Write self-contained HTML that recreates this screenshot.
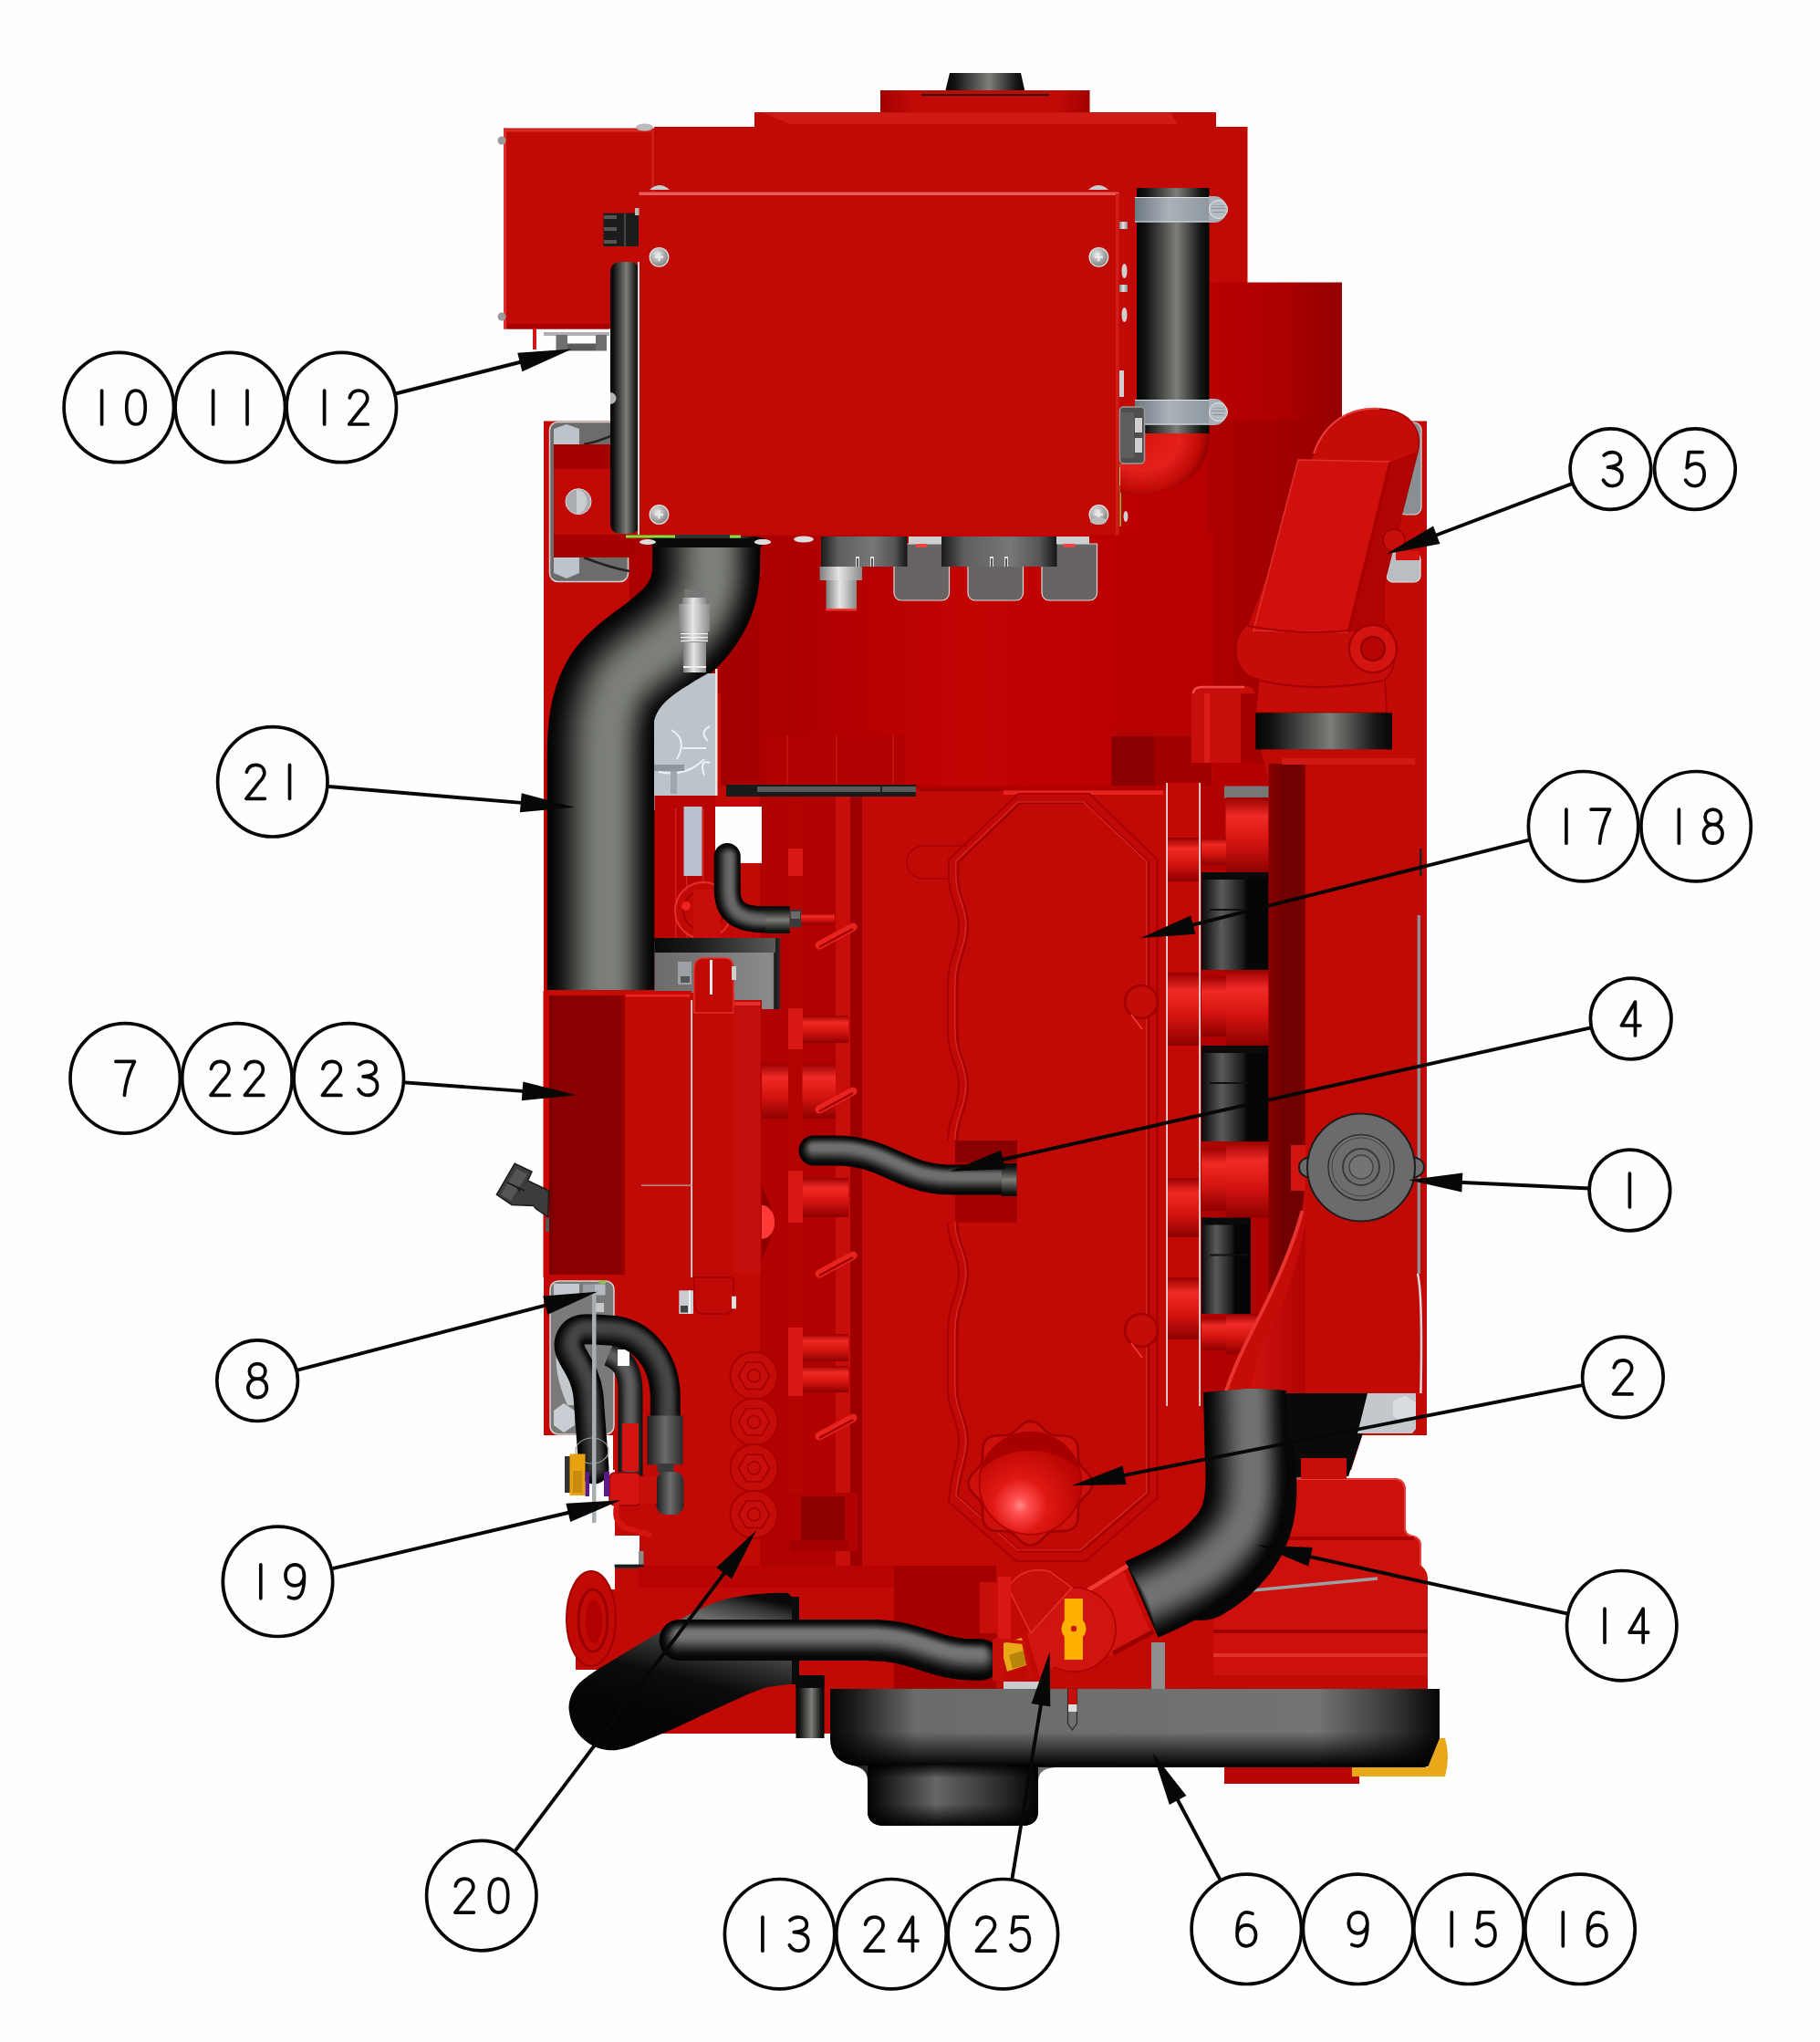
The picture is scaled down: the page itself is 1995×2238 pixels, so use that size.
<!DOCTYPE html>
<html><head><meta charset="utf-8"><title>Engine diagram</title>
<style>html,body{margin:0;padding:0;background:#fefefe;font-family:"Liberation Sans",sans-serif;}svg{display:block}</style>
</head><body>
<svg width="1995" height="2238" viewBox="0 0 1995 2238">
<defs>
<linearGradient id="hv" x1="0" x2="1" y1="0" y2="0"><stop offset="0" stop-color="#030503"/><stop offset="0.12" stop-color="#111311"/><stop offset="0.55" stop-color="#7b7e79"/><stop offset="0.88" stop-color="#161816"/><stop offset="1" stop-color="#030503"/></linearGradient>
<linearGradient id="hh" x1="0" x2="0" y1="0" y2="1"><stop offset="0" stop-color="#030503"/><stop offset="0.12" stop-color="#111311"/><stop offset="0.5" stop-color="#7b7e79"/><stop offset="0.88" stop-color="#161816"/><stop offset="1" stop-color="#030503"/></linearGradient>
<linearGradient id="clampg" x1="0" x2="1" y1="0" y2="0"><stop offset="0" stop-color="#6d7780"/><stop offset="0.45" stop-color="#a9b2b9"/><stop offset="1" stop-color="#8d979f"/></linearGradient>
<radialGradient id="screwg" cx="0.4" cy="0.35" r="0.7"><stop offset="0" stop-color="#e8e8e8"/><stop offset="1" stop-color="#777"/></radialGradient>
<radialGradient id="ballg" cx="0.5" cy="0.5" r="0.5"><stop offset="0" stop-color="#ff7a7a"/><stop offset="0.35" stop-color="#f01818"/><stop offset="1" stop-color="#c10a06"/></radialGradient>
<linearGradient id="bossg" x1="0" x2="0" y1="0" y2="1"><stop offset="0" stop-color="#b00000"/><stop offset="0.3" stop-color="#ee2622"/><stop offset="0.7" stop-color="#d01410"/><stop offset="1" stop-color="#9a0000"/></linearGradient>
<linearGradient id="pang" x1="0" x2="0" y1="0" y2="1"><stop offset="0" stop-color="#5e605d"/><stop offset="0.45" stop-color="#6f716e"/><stop offset="0.8" stop-color="#2a2b2a"/><stop offset="1" stop-color="#050505"/></linearGradient>
<linearGradient id="dkred" x1="0" x2="1" y1="0" y2="0"><stop offset="0" stop-color="#a30000"/><stop offset="0.5" stop-color="#b60402"/><stop offset="1" stop-color="#a30000"/></linearGradient>
</defs>
<rect width="1995" height="2238" fill="#fefefe"/>
<linearGradient id="rb" x1="0" x2="1" y1="0" y2="0"><stop offset="0" stop-color="#b80000"/><stop offset="0.55" stop-color="#ac0000"/><stop offset="1" stop-color="#940000"/></linearGradient>
<linearGradient id="mid" gradientUnits="userSpaceOnUse" x1="790" x2="1380" y1="0" y2="0"><stop offset="0" stop-color="#a40000"/><stop offset="0.12" stop-color="#ac0000"/><stop offset="0.3" stop-color="#b80000"/><stop offset="0.45" stop-color="#c20403"/><stop offset="0.7" stop-color="#bc0000"/><stop offset="1" stop-color="#b40000"/></linearGradient>
<linearGradient id="plateg" x1="0" x2="1" y1="0" y2="0"><stop offset="0" stop-color="#a00000"/><stop offset="0.15" stop-color="#c10a06"/><stop offset="0.85" stop-color="#c10a06"/><stop offset="1" stop-color="#a00000"/></linearGradient>
<polygon points="1041,80 1119,80 1124.5,105 1035,105" fill="url(#hv)" />
<rect x="965" y="99" width="229.5" height="25" fill="url(#plateg)" />
<rect x="1010" y="103" width="140" height="2" fill="#2a1a1a" />
<rect x="827" y="123" width="506" height="18" fill="#c10a06" />
<polygon points="836,123.5 1283,123.5 1291,136 866,136" fill="#cf1a16" />
<rect x="717" y="139" width="650.5" height="173" fill="#c10a06" />
<rect x="552" y="140.5" width="165" height="220.0" fill="#c10a06" />
<rect x="552" y="140.5" width="3" height="220.0" fill="#d8302c" />
<rect x="554" y="141.5" width="163" height="3.0" fill="#d62c28" />
<rect x="556" y="355" width="112" height="5.5" fill="#a80000" />
<rect x="714" y="142" width="3" height="73" fill="#cf1e1a" />
<circle cx="550" cy="154" r="4.5" fill="#9a9a9a" />
<circle cx="550" cy="347" r="4.5" fill="#9a9a9a" />
<ellipse cx="706.5" cy="139.5" rx="9.5" ry="4" fill="#b9bcbc"/>
<rect x="584" y="360" width="4" height="23" fill="#cf1a16" />
<rect x="596" y="364" width="72" height="4" fill="#b0b0b0" />
<rect x="609.5" y="367" width="12.5" height="17.5" fill="#6f6f6f" />
<rect x="622" y="376.5" width="31" height="8.0" fill="#5a5a5a" />
<rect x="653" y="367" width="12" height="17.5" fill="#6f6f6f" />
<rect x="1325" y="309.5" width="146" height="520.5" fill="url(#rb)" />
<rect x="596" y="461.5" width="968" height="1149.5" fill="#c10a06" />
<rect x="790" y="586" width="602" height="275" fill="url(#mid)" />
<rect x="690" y="586" width="100" height="174" fill="#aa0000" />
<rect x="674" y="1600" width="656" height="300" fill="#c10a06" />
<linearGradient id="rb2" gradientUnits="userSpaceOnUse" x1="1226" x2="1470" y1="0" y2="0"><stop offset="0" stop-color="#bc0000"/><stop offset="0.38" stop-color="#b80000"/><stop offset="0.42" stop-color="#ac0000"/><stop offset="1" stop-color="#980000"/></linearGradient>
<rect x="1226" y="309.5" width="100" height="280.5" fill="#c10a06" />
<rect x="1226" y="461" width="245" height="375" fill="url(#rb2)" />
<rect x="1226" y="586" width="104" height="250" fill="#b80000" />
<rect x="1220" y="799" width="112" height="62" fill="#b40402" />
<linearGradient id="metal" x1="0" x2="1" y1="0" y2="0"><stop offset="0" stop-color="#7d7d7d"/><stop offset="0.45" stop-color="#e6e6e6"/><stop offset="1" stop-color="#8a8a8a"/></linearGradient>
<linearGradient id="conn" x1="0" x2="1" y1="0" y2="0"><stop offset="0" stop-color="#1a1a1a"/><stop offset="0.2" stop-color="#5f5f5f"/><stop offset="0.6" stop-color="#777"/><stop offset="0.85" stop-color="#555"/><stop offset="1" stop-color="#151515"/></linearGradient>
<rect x="602.5" y="462.5" width="86" height="175" rx="9" fill="#6c6c6c" stroke="#d0d0d0" stroke-width="1.5"/>
<polygon points="607,470 621,465 635,470 635,487 607,487" fill="#bcc4cb" />
<polygon points="607,611 635,611 635,628 621,634 607,628" fill="#bcc4cb" />
<path d="M640,487 Q668,482 690,466" fill="none" stroke="#222" stroke-width="2.5"/>
<path d="M640,611 Q668,622 690,626" fill="none" stroke="#222" stroke-width="2.5"/>
<rect x="607" y="487" width="93" height="124" fill="#c10a06" />
<rect x="607" y="487" width="93" height="27" fill="#a60000" />
<rect x="607" y="586" width="93" height="25" fill="#a60000" />
<circle cx="634" cy="549.7" r="14" fill="#a9adb2" stroke="#d8d8d8" stroke-width="1"/>
<path d="M632,536 A14,14 0 0 1 632,563.5 Z" fill="#c9cdd2" />
<rect x="669" y="287" width="32" height="298" rx="10" fill="url(#hv)"/>
<path d="M669,430 A6.5,6.5 0 0 1 669,443 Z" fill="#b5b5b5"/>
<rect x="661.5" y="233.5" width="38.5" height="36.5" fill="#1c1c1c" />
<rect x="662" y="236" width="14" height="4" fill="#555" />
<rect x="662" y="249" width="14" height="4" fill="#555" />
<rect x="662" y="263" width="14" height="4" fill="#555" />
<rect x="684" y="234" width="2" height="36" fill="#444" />
<rect x="696" y="228" width="5" height="8" fill="#bbb" />
<rect x="700.5" y="210.5" width="526.0" height="376.0" fill="#c10a06" />
<rect x="700.5" y="210.5" width="526.0" height="3.5" fill="#e85a56" />
<rect x="699" y="287" width="2" height="299" fill="#d9d9d9" />
<rect x="1223" y="212" width="3.5" height="374" fill="#cf1d19" />
<path d="M712,208 Q723,198 734,208 Z" fill="#c9cccc"/>
<path d="M1193,208 Q1204,198 1215,208 Z" fill="#c9cccc"/>
<circle cx="722.5" cy="281.8" r="10.3" fill="url(#screwg)" stroke="#e4e4e4" stroke-width="1.2"/>
<path d="M718.0,280.6h3.3v-3.3h2.4v3.3h3.3v2.4h-3.3v3.3h-2.4v-3.3h-3.3z" fill="#e9e9e9"/>
<circle cx="1204.4" cy="281.8" r="10.3" fill="url(#screwg)" stroke="#e4e4e4" stroke-width="1.2"/>
<path d="M1199.9,280.6h3.3v-3.3h2.4v3.3h3.3v2.4h-3.3v3.3h-2.4v-3.3h-3.3z" fill="#e9e9e9"/>
<circle cx="722.5" cy="564" r="10.3" fill="url(#screwg)" stroke="#e4e4e4" stroke-width="1.2"/>
<path d="M718.0,562.8h3.3v-3.3h2.4v3.3h3.3v2.4h-3.3v3.3h-2.4v-3.3h-3.3z" fill="#e9e9e9"/>
<circle cx="1204.4" cy="564" r="10.3" fill="url(#screwg)" stroke="#e4e4e4" stroke-width="1.2"/>
<path d="M1199.9,562.8h3.3v-3.3h2.4v3.3h3.3v2.4h-3.3v3.3h-2.4v-3.3h-3.3z" fill="#e9e9e9"/>
<rect x="1227" y="243" width="9" height="8" fill="url(#metal)" />
<rect x="1227" y="312" width="9" height="8" fill="url(#metal)" />
<ellipse cx="1232.5" cy="297" rx="3" ry="8" fill="#d0d0d0"/>
<ellipse cx="1232.5" cy="345" rx="3" ry="8" fill="#d0d0d0"/>
<rect x="1227" y="406" width="5" height="29" fill="#cfcfcf" />
<rect x="1227" y="512" width="6" height="20" fill="#bdbdbd" />
<rect x="1227.5" y="508" width="1.3" height="69" fill="#86e03c" />
<ellipse cx="1234" cy="566" rx="2.5" ry="6" fill="#d0d0d0"/>
<rect x="1246" y="206" width="79.5" height="270" fill="url(#hv)" />
<rect x="1244" y="216" width="83" height="27.5" fill="url(#clampg)" />
<rect x="1244" y="216" width="83" height="1" fill="#dfe3e6" />
<rect x="1244" y="242.5" width="83" height="1.0" fill="#dfe3e6" />
<path d="M1325,215 h6 a14,14.5 0 0 1 0,29 h-6 z" fill="#a7afb6"/>
<circle cx="1335.5" cy="229.5" r="10" fill="#b4bcc2" stroke="#e8eaec" stroke-width="1"/>
<rect x="1328" y="228" width="15" height="1" fill="#8c949a" />
<rect x="1329" y="232" width="13" height="1" fill="#8c949a" />
<rect x="1329" y="225" width="13" height="1" fill="#9aa2a8" />
<rect x="1244" y="438" width="83" height="27.5" fill="url(#clampg)" />
<rect x="1244" y="438" width="83" height="1" fill="#dfe3e6" />
<rect x="1244" y="464.5" width="83" height="1.0" fill="#dfe3e6" />
<path d="M1325,437 h6 a14,14.5 0 0 1 0,29 h-6 z" fill="#a7afb6"/>
<circle cx="1335.5" cy="451.5" r="10" fill="#b4bcc2" stroke="#e8eaec" stroke-width="1"/>
<rect x="1328" y="450" width="15" height="1" fill="#8c949a" />
<rect x="1329" y="454" width="13" height="1" fill="#8c949a" />
<rect x="1329" y="447" width="13" height="1" fill="#9aa2a8" />
<radialGradient id="elb" gradientUnits="userSpaceOnUse" cx="1253" cy="475" r="74"><stop offset="0" stop-color="#d81410"/><stop offset="0.55" stop-color="#e3201c"/><stop offset="0.85" stop-color="#c10a06"/><stop offset="1" stop-color="#8a0000"/></radialGradient>
<path d="M1325.5,475 L1246,475 L1228,475 L1228,540 C1290,548 1325.5,520 1325.5,475 Z" fill="url(#elb)" />
<rect x="1227.5" y="446" width="27" height="62" rx="4" fill="#4e4e4e" stroke="#9a9a9a" stroke-width="1.5"/>
<rect x="1228" y="452" width="15" height="50" fill="#5e5e5e" />
<rect x="1244" y="458" width="8" height="16" fill="#cfcfcf" />
<rect x="1244" y="480" width="8" height="16" fill="#cfcfcf" />
<path d="M774.5,588 L774,625 C772,695 700,712 675,750 C661,772 658.7,800 658.7,830 L658.7,1085" fill="none" stroke="#050605" stroke-width="118.00" stroke-linecap="butt" stroke-linejoin="round" transform="translate(0.00,0.00)" />
<path d="M774.5,588 L774,625 C772,695 700,712 675,750 C661,772 658.7,800 658.7,830 L658.7,1085" fill="none" stroke="#060706" stroke-width="113.75" stroke-linecap="butt" stroke-linejoin="round" transform="translate(0.28,0.00)" />
<path d="M774.5,588 L774,625 C772,695 700,712 675,750 C661,772 658.7,800 658.7,830 L658.7,1085" fill="none" stroke="#080a08" stroke-width="109.50" stroke-linecap="butt" stroke-linejoin="round" transform="translate(0.56,0.00)" />
<path d="M774.5,588 L774,625 C772,695 700,712 675,750 C661,772 658.7,800 658.7,830 L658.7,1085" fill="none" stroke="#0c0d0c" stroke-width="105.26" stroke-linecap="butt" stroke-linejoin="round" transform="translate(0.84,0.00)" />
<path d="M774.5,588 L774,625 C772,695 700,712 675,750 C661,772 658.7,800 658.7,830 L658.7,1085" fill="none" stroke="#101110" stroke-width="101.01" stroke-linecap="butt" stroke-linejoin="round" transform="translate(1.12,0.00)" />
<path d="M774.5,588 L774,625 C772,695 700,712 675,750 C661,772 658.7,800 658.7,830 L658.7,1085" fill="none" stroke="#151615" stroke-width="96.76" stroke-linecap="butt" stroke-linejoin="round" transform="translate(1.40,0.00)" />
<path d="M774.5,588 L774,625 C772,695 700,712 675,750 C661,772 658.7,800 658.7,830 L658.7,1085" fill="none" stroke="#1b1c1a" stroke-width="92.51" stroke-linecap="butt" stroke-linejoin="round" transform="translate(1.68,0.00)" />
<path d="M774.5,588 L774,625 C772,695 700,712 675,750 C661,772 658.7,800 658.7,830 L658.7,1085" fill="none" stroke="#212220" stroke-width="88.26" stroke-linecap="butt" stroke-linejoin="round" transform="translate(1.96,0.00)" />
<path d="M774.5,588 L774,625 C772,695 700,712 675,750 C661,772 658.7,800 658.7,830 L658.7,1085" fill="none" stroke="#272927" stroke-width="84.02" stroke-linecap="butt" stroke-linejoin="round" transform="translate(2.24,0.00)" />
<path d="M774.5,588 L774,625 C772,695 700,712 675,750 C661,772 658.7,800 658.7,830 L658.7,1085" fill="none" stroke="#2e302d" stroke-width="79.77" stroke-linecap="butt" stroke-linejoin="round" transform="translate(2.52,0.00)" />
<path d="M774.5,588 L774,625 C772,695 700,712 675,750 C661,772 658.7,800 658.7,830 L658.7,1085" fill="none" stroke="#353734" stroke-width="75.52" stroke-linecap="butt" stroke-linejoin="round" transform="translate(2.80,0.00)" />
<path d="M774.5,588 L774,625 C772,695 700,712 675,750 C661,772 658.7,800 658.7,830 L658.7,1085" fill="none" stroke="#3c3e3b" stroke-width="71.27" stroke-linecap="butt" stroke-linejoin="round" transform="translate(3.08,0.00)" />
<path d="M774.5,588 L774,625 C772,695 700,712 675,750 C661,772 658.7,800 658.7,830 L658.7,1085" fill="none" stroke="#434542" stroke-width="67.02" stroke-linecap="butt" stroke-linejoin="round" transform="translate(3.36,0.00)" />
<path d="M774.5,588 L774,625 C772,695 700,712 675,750 C661,772 658.7,800 658.7,830 L658.7,1085" fill="none" stroke="#4a4c49" stroke-width="62.78" stroke-linecap="butt" stroke-linejoin="round" transform="translate(3.64,0.00)" />
<path d="M774.5,588 L774,625 C772,695 700,712 675,750 C661,772 658.7,800 658.7,830 L658.7,1085" fill="none" stroke="#51534f" stroke-width="58.53" stroke-linecap="butt" stroke-linejoin="round" transform="translate(3.92,0.00)" />
<path d="M774.5,588 L774,625 C772,695 700,712 675,750 C661,772 658.7,800 658.7,830 L658.7,1085" fill="none" stroke="#575a56" stroke-width="54.28" stroke-linecap="butt" stroke-linejoin="round" transform="translate(4.20,0.00)" />
<path d="M774.5,588 L774,625 C772,695 700,712 675,750 C661,772 658.7,800 658.7,830 L658.7,1085" fill="none" stroke="#5e605c" stroke-width="50.03" stroke-linecap="butt" stroke-linejoin="round" transform="translate(4.48,0.00)" />
<path d="M774.5,588 L774,625 C772,695 700,712 675,750 C661,772 658.7,800 658.7,830 L658.7,1085" fill="none" stroke="#636662" stroke-width="45.78" stroke-linecap="butt" stroke-linejoin="round" transform="translate(4.76,0.00)" />
<path d="M774.5,588 L774,625 C772,695 700,712 675,750 C661,772 658.7,800 658.7,830 L658.7,1085" fill="none" stroke="#696b67" stroke-width="41.54" stroke-linecap="butt" stroke-linejoin="round" transform="translate(5.04,0.00)" />
<path d="M774.5,588 L774,625 C772,695 700,712 675,750 C661,772 658.7,800 658.7,830 L658.7,1085" fill="none" stroke="#6d706b" stroke-width="37.29" stroke-linecap="butt" stroke-linejoin="round" transform="translate(5.32,0.00)" />
<path d="M774.5,588 L774,625 C772,695 700,712 675,750 C661,772 658.7,800 658.7,830 L658.7,1085" fill="none" stroke="#717470" stroke-width="33.04" stroke-linecap="butt" stroke-linejoin="round" transform="translate(5.60,0.00)" />
<path d="M774.5,588 L774,625 C772,695 700,712 675,750 C661,772 658.7,800 658.7,830 L658.7,1085" fill="none" stroke="#757873" stroke-width="28.79" stroke-linecap="butt" stroke-linejoin="round" transform="translate(5.88,0.00)" />
<path d="M774.5,588 L774,625 C772,695 700,712 675,750 C661,772 658.7,800 658.7,830 L658.7,1085" fill="none" stroke="#777a76" stroke-width="24.54" stroke-linecap="butt" stroke-linejoin="round" transform="translate(6.16,0.00)" />
<path d="M774.5,588 L774,625 C772,695 700,712 675,750 C661,772 658.7,800 658.7,830 L658.7,1085" fill="none" stroke="#797c77" stroke-width="20.30" stroke-linecap="butt" stroke-linejoin="round" transform="translate(6.44,0.00)" />
<path d="M774.5,588 L774,625 C772,695 700,712 675,750 C661,772 658.7,800 658.7,830 L658.7,1085" fill="none" stroke="#7b7e79" stroke-width="16.05" stroke-linecap="butt" stroke-linejoin="round" transform="translate(6.72,0.00)" />
<path d="M774.5,588 L774,625 C772,695 700,712 675,750 C661,772 658.7,800 658.7,830 L658.7,1085" fill="none" stroke="#7b7e79" stroke-width="11.80" stroke-linecap="butt" stroke-linejoin="round" transform="translate(7.00,0.00)" />
<path d="M712,590 L838,590 L834,600 L716,600 Z" fill="#0a0a0a" />
<rect x="686" y="586.5" width="126" height="3.0" fill="#86e03c" />
<rect x="740" y="586" width="60" height="4" fill="#333" />
<ellipse cx="710" cy="594" rx="9" ry="3" fill="#ddd"/>
<ellipse cx="836" cy="594" rx="9" ry="3" fill="#ddd"/>
<rect x="750.5" y="646" width="21.0" height="9" fill="#777" />
<rect x="748" y="655" width="26" height="7" fill="url(#metal)" />
<rect x="744" y="662" width="34" height="30" fill="url(#metal)" />
<rect x="746" y="692" width="30" height="11" fill="url(#metal)" />
<rect x="746" y="694" width="30" height="1.2" fill="#f4f4f4" />
<rect x="746" y="698" width="30" height="1.2" fill="#f4f4f4" />
<rect x="746" y="702" width="30" height="1.2" fill="#f4f4f4" />
<rect x="749" y="704" width="25" height="33" fill="url(#metal)" />
<rect x="749" y="730" width="25" height="2" fill="#f0f0f0" />
<path d="M717,790 C722,770 740,760 762,746 L776,738 L785,738 L785,872 L760,872 L760,888 L717,888 Z" fill="#bcc4cb" />
<path d="M736,800 q18,10 6,32 M748,820 h26 M778,796 q-12,6 -2,16 M778,836 q-12,-4 -6,14 M722,846 q30,6 50,-14" fill="none" stroke="#eef1f4" stroke-width="2"/>
<rect x="717" y="838" width="33" height="7" fill="#8f979d" />
<rect x="735" y="845" width="7" height="25" fill="#9fa7ad" />
<rect x="784" y="733" width="2.5" height="139" fill="#e8e8e8" />
<path d="M980,596 h60.5 v54 a8,8 0 0 1 -8,8 h-44.5 a8,8 0 0 1 -8,-8 z" fill="#686464" stroke="#d8d8d8" stroke-width="1.2"/>
<path d="M1061,596 h60.5 v54 a8,8 0 0 1 -8,8 h-44.5 a8,8 0 0 1 -8,-8 z" fill="#686464" stroke="#d8d8d8" stroke-width="1.2"/>
<path d="M1142,596 h60.5 v54 a8,8 0 0 1 -8,8 h-44.5 a8,8 0 0 1 -8,-8 z" fill="#686464" stroke="#d8d8d8" stroke-width="1.2"/>
<rect x="900" y="588" width="94.5" height="33" fill="url(#conn)" />
<rect x="1032" y="588" width="126.5" height="33" fill="url(#conn)" />
<rect x="938" y="610" width="4" height="11" fill="#e0e0e0" />
<rect x="939" y="612" width="2" height="9" fill="#555" />
<rect x="954" y="610" width="4" height="11" fill="#e0e0e0" />
<rect x="955" y="612" width="2" height="9" fill="#555" />
<rect x="1085" y="610" width="4" height="11" fill="#e0e0e0" />
<rect x="1086" y="612" width="2" height="9" fill="#555" />
<rect x="1101" y="610" width="4" height="11" fill="#e0e0e0" />
<rect x="1102" y="612" width="2" height="9" fill="#555" />
<rect x="898.5" y="621" width="46.5" height="15" fill="url(#metal)" />
<rect x="905.5" y="636" width="33.5" height="33" fill="url(#metal)" />
<rect x="905.5" y="667" width="33.5" height="2.5" fill="#e33" />
<rect x="996" y="588" width="36" height="8" fill="#cfcfcf" />
<rect x="1004" y="596" width="12" height="4" fill="#e44" />
<rect x="1158" y="588" width="36" height="8" fill="#cfcfcf" />
<rect x="1166" y="596" width="12" height="4" fill="#e44" />
<ellipse cx="836" cy="594" rx="9" ry="3" fill="#ddd"/>
<ellipse cx="881" cy="591" rx="11" ry="3.5" fill="#ddd"/>
<ellipse cx="1204" cy="571" rx="9" ry="4" fill="#bbb"/>
<rect x="1218.5" y="807" width="46.5" height="54" fill="#8a0000" />
<rect x="1265" y="807" width="63" height="54" fill="#a20000" />
<rect x="839" y="806" width="152" height="55" fill="#b00000" />
<rect x="862" y="806" width="2" height="55" fill="#c4100c" />
<rect x="916" y="806" width="2" height="55" fill="#c4100c" />
<rect x="978" y="806" width="2" height="55" fill="#c4100c" />
<rect x="796" y="860" width="208" height="13" fill="#1a1a1a" />
<rect x="830" y="862" width="160" height="6" fill="#555" />
<rect x="1100" y="866.5" width="175" height="4.5" fill="#e22" />
<rect x="1533" y="463" width="25" height="101" rx="8" fill="#8a8f94" stroke="#d8d8d8" stroke-width="1.2"/>
<rect x="1520" y="606" width="37" height="32" rx="7" fill="#b9bec3" stroke="#e0e0e0" stroke-width="1.2"/>
<path d="M1306,836 L1306,762 Q1306,752 1318,752 L1364,752 Q1376,752 1376,762 L1376,836 Z" fill="#c80e0a"/>
<path d="M1308,760 Q1308,753 1318,753 L1364,753" fill="none" stroke="#f04a46" stroke-width="2.5"/>
<rect x="1320" y="760" width="6" height="76" fill="#d81c18" />
<rect x="1360" y="760" width="16" height="76" fill="#a80000" />
<path d="M1440,497 C1452,462 1480,446 1512,448 C1545,450 1560,470 1554,495 L1517,640 L1517,684 C1532,690 1534,735 1518,744 L1520,781 L1376,781 L1380,744 C1352,742 1346,700 1368,684 Z" fill="#c60c08" stroke="#a00000" stroke-width="1.5"/>
<path d="M1423,504 L1524,506 L1478,693 L1374,691 Z" fill="#cf100c" stroke="#e3302c" stroke-width="1.5"/>
<path d="M1440,497 C1452,462 1480,446 1512,448" fill="none" stroke="#e8403c" stroke-width="2"/>
<polygon points="1524,506 1554,495 1517,640 1517,684 1478,693" fill="#b00402" />
<path d="M1524,506 L1478,693" fill="none" stroke="#a80000" stroke-width="3"/>
<path d="M1368,686 Q1440,700 1517,686" fill="none" stroke="#a80000" stroke-width="2"/>
<path d="M1382,746 Q1440,760 1516,746" fill="none" stroke="#a00000" stroke-width="2"/>
<circle cx="1505" cy="711" r="26" fill="#d41410" stroke="#9c0000" stroke-width="2"/>
<circle cx="1505" cy="711" r="13" fill="#b80402" stroke="#8e0000" stroke-width="2"/>
<circle cx="1528" cy="592" r="12" fill="#c80e0a" stroke="#9c0000" stroke-width="1.5"/>
<rect x="1530" y="604" width="26" height="10" fill="#d41410" />
<rect x="1376.3" y="781.3" width="149.7" height="40.2" fill="url(#hv)" />
<path d="M1382,821.5 L1520,821.5 L1520,837 L1405,837 L1400,861 L1392,861 Z" fill="#c00a06" />
<linearGradient id="bossh" x1="0" x2="0" y1="0" y2="1"><stop offset="0" stop-color="#9a0000"/><stop offset="0.25" stop-color="#f02a26"/><stop offset="0.6" stop-color="#d41410"/><stop offset="1" stop-color="#8e0000"/></linearGradient>
<linearGradient id="darkface" x1="0" x2="1" y1="0" y2="0"><stop offset="0" stop-color="#720000"/><stop offset="0.08" stop-color="#8a0000"/><stop offset="0.93" stop-color="#8b0000"/><stop offset="1" stop-color="#a00000"/></linearGradient>
<linearGradient id="dkh" x1="0" x2="1" y1="0" y2="0"><stop offset="0" stop-color="#6c6c6c"/><stop offset="0.3" stop-color="#747474"/><stop offset="0.9" stop-color="#8a8a8a"/><stop offset="0.945" stop-color="#8a8a8a"/><stop offset="0.955" stop-color="#181818"/><stop offset="1" stop-color="#2c2c2c"/></linearGradient>
<rect x="833" y="873" width="112" height="843" fill="#b00301" />
<rect x="945" y="873" width="55" height="843" fill="#ba0604" />
<rect x="784" y="884" width="51" height="62" fill="#fefefe" />
<rect x="717.5" y="872" width="66.5" height="157" fill="#b80402" />
<rect x="740" y="886" width="1.5" height="143" fill="#d0201c" />
<rect x="752" y="886" width="1.5" height="143" fill="#d0201c" />
<rect x="770" y="886" width="1.5" height="143" fill="#d0201c" />
<rect x="749.5" y="884" width="20.0" height="76" fill="#b9c1cf" />
<circle cx="771" cy="998" r="31" fill="#c10a06" stroke="#e3302c" stroke-width="2"/>
<circle cx="771" cy="998" r="22" fill="none" stroke="#a00000" stroke-width="2"/>
<rect x="760" y="975" width="30" height="55" fill="#c80e0a" />
<circle cx="752" cy="993" r="5" fill="#e22" />
<path d="M717.5,1031 L745,1031 L752,1028 L855,1028 L855,1106 L835,1106 L835,1096 L805,1096 L805,1088 L717.5,1088 Z" fill="url(#dkh)" />
<linearGradient id="dkt" x1="0" x2="1" y1="0" y2="0"><stop offset="0" stop-color="#0a0a0a"/><stop offset="0.35" stop-color="#1c1c1c"/><stop offset="1" stop-color="#5a5a5a"/></linearGradient>
<rect x="717.5" y="1028" width="132.5" height="16" fill="url(#dkt)" />
<rect x="600" y="1086" width="158" height="314" fill="#c10a06" />
<rect x="602" y="1091" width="83" height="306" fill="url(#darkface)" />
<rect x="600" y="1086" width="158" height="5" fill="#c80a08" />
<rect x="686" y="1090" width="70" height="2.5" fill="#e82a26" />
<rect x="595.5" y="1086" width="6.5" height="314" fill="#cc0402" />
<rect x="757.3" y="1096" width="1.7" height="304" fill="#e9e9e9" />
<rect x="703" y="1298.5" width="71" height="1.3" fill="#b9a0a0" />
<rect x="759" y="1096" width="45.5" height="317" fill="#c10a06" />
<path d="M761,1110 L761,1062 Q761,1050 772,1050 L794,1050 Q804,1050 804,1062 L804,1110 Z" fill="#c10a06" stroke="#e3302c" stroke-width="1.5"/>
<rect x="778" y="1052" width="3" height="38" fill="#e8e8e8" />
<rect x="743" y="1054" width="15" height="25" fill="#9aa0a6" />
<rect x="746" y="1070" width="10" height="7" fill="#555" />
<rect x="802" y="1059" width="5" height="15" fill="#cfcfcf" />
<rect x="804.5" y="1098" width="29.0" height="297" fill="#c4100c" />
<rect x="804.5" y="1098" width="29.0" height="4" fill="#e3302c" />
<path d="M761,1400 L761,1428 Q761,1440 772,1440 L794,1440 Q804,1440 804,1428 L804,1400 Z" fill="#c10a06" stroke="#a00000" stroke-width="1.5"/>
<rect x="744.3" y="1414.3" width="15.7" height="25.7" fill="#c9cdd2" />
<rect x="746" y="1431" width="8" height="7.5" fill="#444" />
<rect x="755" y="1414.3" width="2" height="25.7" fill="#f2f2f2" />
<rect x="802" y="1420.7" width="5" height="13.6" fill="#e0e0e0" />
<rect x="835" y="1166" width="94" height="60" fill="url(#bossh)" />
<path d="M835,1321 A14,18.5 0 0 1 835,1358 Z" fill="#ff3a36" />
<path d="M835,1300 Q858,1340 835,1380 Z" fill="#8e0000" />
<path d="M835,1321 A14,18.5 0 0 1 835,1358 Z" fill="#ff3a36" />
<rect x="864" y="873" width="15.5" height="763" fill="#b40402" />
<rect x="916" y="873" width="16" height="843" fill="#c80e0a" />
<rect x="932" y="873" width="13" height="843" fill="#9c0000" />
<rect x="879" y="1113" width="51" height="30" fill="url(#bossh)" />
<rect x="879" y="1291" width="51" height="43" fill="url(#bossh)" />
<rect x="879" y="1462" width="51" height="30" fill="url(#bossh)" />
<rect x="879" y="1497" width="51" height="29" fill="url(#bossh)" />
<rect x="864" y="930" width="16" height="30" fill="#d81814" />
<rect x="864" y="1105" width="16" height="45" fill="#d81814" />
<rect x="864" y="1283" width="16" height="57" fill="#d81814" />
<rect x="864" y="1455" width="16" height="75" fill="#d81814" />
<path d="M898,1036 L935,1016" fill="none" stroke="#e8221e" stroke-width="9" stroke-linecap="round"/>
<path d="M898,1038 L935,1018" fill="none" stroke="#9a0000" stroke-width="2"/>
<path d="M960,1028 l8,-16" fill="none" stroke="#8e0000" stroke-width="3"/>
<path d="M974,1028 l8,-16" fill="none" stroke="#8e0000" stroke-width="3"/>
<path d="M988,1028 l8,-16" fill="none" stroke="#8e0000" stroke-width="3"/>
<path d="M898,1216 L935,1196" fill="none" stroke="#e8221e" stroke-width="9" stroke-linecap="round"/>
<path d="M898,1218 L935,1198" fill="none" stroke="#9a0000" stroke-width="2"/>
<path d="M960,1208 l8,-16" fill="none" stroke="#8e0000" stroke-width="3"/>
<path d="M974,1208 l8,-16" fill="none" stroke="#8e0000" stroke-width="3"/>
<path d="M988,1208 l8,-16" fill="none" stroke="#8e0000" stroke-width="3"/>
<path d="M898,1396 L935,1376" fill="none" stroke="#e8221e" stroke-width="9" stroke-linecap="round"/>
<path d="M898,1398 L935,1378" fill="none" stroke="#9a0000" stroke-width="2"/>
<path d="M960,1388 l8,-16" fill="none" stroke="#8e0000" stroke-width="3"/>
<path d="M974,1388 l8,-16" fill="none" stroke="#8e0000" stroke-width="3"/>
<path d="M988,1388 l8,-16" fill="none" stroke="#8e0000" stroke-width="3"/>
<path d="M898,1574 L935,1554" fill="none" stroke="#e8221e" stroke-width="9" stroke-linecap="round"/>
<path d="M898,1576 L935,1556" fill="none" stroke="#9a0000" stroke-width="2"/>
<path d="M960,1566 l8,-16" fill="none" stroke="#8e0000" stroke-width="3"/>
<path d="M974,1566 l8,-16" fill="none" stroke="#8e0000" stroke-width="3"/>
<path d="M988,1566 l8,-16" fill="none" stroke="#8e0000" stroke-width="3"/>
<path d="M797.2,938.5 L797.2,975 C797.2,1001 812,1007.8 838,1007.8 L842,1007.8" fill="none" stroke="#050605" stroke-width="29.00" stroke-linecap="round" stroke-linejoin="round" transform="translate(0.00,0.00)" />
<path d="M797.2,938.5 L797.2,975 C797.2,1001 812,1007.8 838,1007.8 L842,1007.8" fill="none" stroke="#060706" stroke-width="27.63" stroke-linecap="round" stroke-linejoin="round" transform="translate(0.16,0.00)" />
<path d="M797.2,938.5 L797.2,975 C797.2,1001 812,1007.8 838,1007.8 L842,1007.8" fill="none" stroke="#080908" stroke-width="26.25" stroke-linecap="round" stroke-linejoin="round" transform="translate(0.32,0.00)" />
<path d="M797.2,938.5 L797.2,975 C797.2,1001 812,1007.8 838,1007.8 L842,1007.8" fill="none" stroke="#0b0c0b" stroke-width="24.88" stroke-linecap="round" stroke-linejoin="round" transform="translate(0.47,0.00)" />
<path d="M797.2,938.5 L797.2,975 C797.2,1001 812,1007.8 838,1007.8 L842,1007.8" fill="none" stroke="#0f100f" stroke-width="23.51" stroke-linecap="round" stroke-linejoin="round" transform="translate(0.63,0.00)" />
<path d="M797.2,938.5 L797.2,975 C797.2,1001 812,1007.8 838,1007.8 L842,1007.8" fill="none" stroke="#151615" stroke-width="22.13" stroke-linecap="round" stroke-linejoin="round" transform="translate(0.79,0.00)" />
<path d="M797.2,938.5 L797.2,975 C797.2,1001 812,1007.8 838,1007.8 L842,1007.8" fill="none" stroke="#1b1c1b" stroke-width="20.76" stroke-linecap="round" stroke-linejoin="round" transform="translate(0.95,0.00)" />
<path d="M797.2,938.5 L797.2,975 C797.2,1001 812,1007.8 838,1007.8 L842,1007.8" fill="none" stroke="#222322" stroke-width="19.38" stroke-linecap="round" stroke-linejoin="round" transform="translate(1.11,0.00)" />
<path d="M797.2,938.5 L797.2,975 C797.2,1001 812,1007.8 838,1007.8 L842,1007.8" fill="none" stroke="#2a2b2a" stroke-width="18.01" stroke-linecap="round" stroke-linejoin="round" transform="translate(1.26,0.00)" />
<path d="M797.2,938.5 L797.2,975 C797.2,1001 812,1007.8 838,1007.8 L842,1007.8" fill="none" stroke="#313331" stroke-width="16.64" stroke-linecap="round" stroke-linejoin="round" transform="translate(1.42,0.00)" />
<path d="M797.2,938.5 L797.2,975 C797.2,1001 812,1007.8 838,1007.8 L842,1007.8" fill="none" stroke="#3a3b3a" stroke-width="15.26" stroke-linecap="round" stroke-linejoin="round" transform="translate(1.58,0.00)" />
<path d="M797.2,938.5 L797.2,975 C797.2,1001 812,1007.8 838,1007.8 L842,1007.8" fill="none" stroke="#414341" stroke-width="13.89" stroke-linecap="round" stroke-linejoin="round" transform="translate(1.74,0.00)" />
<path d="M797.2,938.5 L797.2,975 C797.2,1001 812,1007.8 838,1007.8 L842,1007.8" fill="none" stroke="#494b49" stroke-width="12.52" stroke-linecap="round" stroke-linejoin="round" transform="translate(1.89,0.00)" />
<path d="M797.2,938.5 L797.2,975 C797.2,1001 812,1007.8 838,1007.8 L842,1007.8" fill="none" stroke="#505250" stroke-width="11.14" stroke-linecap="round" stroke-linejoin="round" transform="translate(2.05,0.00)" />
<path d="M797.2,938.5 L797.2,975 C797.2,1001 812,1007.8 838,1007.8 L842,1007.8" fill="none" stroke="#565856" stroke-width="9.77" stroke-linecap="round" stroke-linejoin="round" transform="translate(2.21,0.00)" />
<path d="M797.2,938.5 L797.2,975 C797.2,1001 812,1007.8 838,1007.8 L842,1007.8" fill="none" stroke="#5c5e5c" stroke-width="8.39" stroke-linecap="round" stroke-linejoin="round" transform="translate(2.37,0.00)" />
<path d="M797.2,938.5 L797.2,975 C797.2,1001 812,1007.8 838,1007.8 L842,1007.8" fill="none" stroke="#606260" stroke-width="7.02" stroke-linecap="round" stroke-linejoin="round" transform="translate(2.53,0.00)" />
<path d="M797.2,938.5 L797.2,975 C797.2,1001 812,1007.8 838,1007.8 L842,1007.8" fill="none" stroke="#636563" stroke-width="5.65" stroke-linecap="round" stroke-linejoin="round" transform="translate(2.68,0.00)" />
<path d="M797.2,938.5 L797.2,975 C797.2,1001 812,1007.8 838,1007.8 L842,1007.8" fill="none" stroke="#656765" stroke-width="4.27" stroke-linecap="round" stroke-linejoin="round" transform="translate(2.84,0.00)" />
<path d="M797.2,938.5 L797.2,975 C797.2,1001 812,1007.8 838,1007.8 L842,1007.8" fill="none" stroke="#666866" stroke-width="2.90" stroke-linecap="round" stroke-linejoin="round" transform="translate(3.00,0.00)" />
<rect x="839.3" y="993.2" width="26.4" height="29.8" fill="url(#hh)" />
<rect x="865.7" y="997" width="12.9" height="19.4" fill="#3a3a3a" />
<rect x="867" y="999" width="10" height="8" fill="#6a6a6a" />
<rect x="878" y="1001" width="37" height="12" fill="url(#bossh)" />
<rect x="945" y="861" width="333" height="855" fill="#c10a06" />
<rect x="945" y="861" width="333" height="5" fill="#b00000" />
<rect x="1100" y="866.5" width="175" height="4.5" fill="#e8221e" />
<rect x="1047" y="1250" width="68" height="90" fill="#a60000" />
<rect x="1047" y="1250" width="68" height="24" fill="#8a0000" />
<path d="M892,1261 L915,1261 C975,1261 985,1293 1045,1293 L1098,1293" fill="none" stroke="#050605" stroke-width="33.00" stroke-linecap="round" stroke-linejoin="round" transform="translate(0.00,-0.00)" />
<path d="M892,1261 L915,1261 C975,1261 985,1293 1045,1293 L1098,1293" fill="none" stroke="#050605" stroke-width="31.44" stroke-linecap="round" stroke-linejoin="round" transform="translate(0.00,-0.21)" />
<path d="M892,1261 L915,1261 C975,1261 985,1293 1045,1293 L1098,1293" fill="none" stroke="#070807" stroke-width="29.87" stroke-linecap="round" stroke-linejoin="round" transform="translate(0.00,-0.42)" />
<path d="M892,1261 L915,1261 C975,1261 985,1293 1045,1293 L1098,1293" fill="none" stroke="#0a0b0a" stroke-width="28.31" stroke-linecap="round" stroke-linejoin="round" transform="translate(0.00,-0.63)" />
<path d="M892,1261 L915,1261 C975,1261 985,1293 1045,1293 L1098,1293" fill="none" stroke="#0e0f0e" stroke-width="26.75" stroke-linecap="round" stroke-linejoin="round" transform="translate(0.00,-0.84)" />
<path d="M892,1261 L915,1261 C975,1261 985,1293 1045,1293 L1098,1293" fill="none" stroke="#131413" stroke-width="25.18" stroke-linecap="round" stroke-linejoin="round" transform="translate(0.00,-1.05)" />
<path d="M892,1261 L915,1261 C975,1261 985,1293 1045,1293 L1098,1293" fill="none" stroke="#1a1b19" stroke-width="23.62" stroke-linecap="round" stroke-linejoin="round" transform="translate(0.00,-1.26)" />
<path d="M892,1261 L915,1261 C975,1261 985,1293 1045,1293 L1098,1293" fill="none" stroke="#212221" stroke-width="22.06" stroke-linecap="round" stroke-linejoin="round" transform="translate(0.00,-1.47)" />
<path d="M892,1261 L915,1261 C975,1261 985,1293 1045,1293 L1098,1293" fill="none" stroke="#292a29" stroke-width="20.49" stroke-linecap="round" stroke-linejoin="round" transform="translate(0.00,-1.68)" />
<path d="M892,1261 L915,1261 C975,1261 985,1293 1045,1293 L1098,1293" fill="none" stroke="#323331" stroke-width="18.93" stroke-linecap="round" stroke-linejoin="round" transform="translate(0.00,-1.89)" />
<path d="M892,1261 L915,1261 C975,1261 985,1293 1045,1293 L1098,1293" fill="none" stroke="#3a3c3a" stroke-width="17.37" stroke-linecap="round" stroke-linejoin="round" transform="translate(0.00,-2.11)" />
<path d="M892,1261 L915,1261 C975,1261 985,1293 1045,1293 L1098,1293" fill="none" stroke="#434543" stroke-width="15.81" stroke-linecap="round" stroke-linejoin="round" transform="translate(0.00,-2.32)" />
<path d="M892,1261 L915,1261 C975,1261 985,1293 1045,1293 L1098,1293" fill="none" stroke="#4c4e4b" stroke-width="14.24" stroke-linecap="round" stroke-linejoin="round" transform="translate(0.00,-2.53)" />
<path d="M892,1261 L915,1261 C975,1261 985,1293 1045,1293 L1098,1293" fill="none" stroke="#545653" stroke-width="12.68" stroke-linecap="round" stroke-linejoin="round" transform="translate(0.00,-2.74)" />
<path d="M892,1261 L915,1261 C975,1261 985,1293 1045,1293 L1098,1293" fill="none" stroke="#5c5d5b" stroke-width="11.12" stroke-linecap="round" stroke-linejoin="round" transform="translate(0.00,-2.95)" />
<path d="M892,1261 L915,1261 C975,1261 985,1293 1045,1293 L1098,1293" fill="none" stroke="#626461" stroke-width="9.55" stroke-linecap="round" stroke-linejoin="round" transform="translate(0.00,-3.16)" />
<path d="M892,1261 L915,1261 C975,1261 985,1293 1045,1293 L1098,1293" fill="none" stroke="#676966" stroke-width="7.99" stroke-linecap="round" stroke-linejoin="round" transform="translate(0.00,-3.37)" />
<path d="M892,1261 L915,1261 C975,1261 985,1293 1045,1293 L1098,1293" fill="none" stroke="#6b6d6a" stroke-width="6.43" stroke-linecap="round" stroke-linejoin="round" transform="translate(0.00,-3.58)" />
<path d="M892,1261 L915,1261 C975,1261 985,1293 1045,1293 L1098,1293" fill="none" stroke="#6d6f6c" stroke-width="4.86" stroke-linecap="round" stroke-linejoin="round" transform="translate(0.00,-3.79)" />
<path d="M892,1261 L915,1261 C975,1261 985,1293 1045,1293 L1098,1293" fill="none" stroke="#6e706d" stroke-width="3.30" stroke-linecap="round" stroke-linejoin="round" transform="translate(0.00,-4.00)" />
<rect x="1098" y="1275" width="16.5" height="36" fill="url(#hh)" />
<path d="M1118,880 L1050,945 L1050,962 C1050,985 1061,992 1061,1015 C1061,1040 1049,1050 1049,1080 L1049,1130 C1049,1160 1061,1165 1061,1190 C1061,1215 1049,1225 1049,1250 M1049,1340 C1049,1365 1061,1372 1061,1395 C1061,1420 1049,1430 1049,1460 L1049,1520 C1049,1548 1061,1556 1061,1580 C1061,1600 1052,1612 1050,1640 L1118,1700 L1186,1700 L1259,1637 L1259,945 L1190,880 L1118,880" fill="none" stroke="#a30000" stroke-width="2.5" stroke-linejoin="round"/>
<path d="M1118,880 L1050,945 L1050,962 C1050,985 1061,992 1061,1015 C1061,1040 1049,1050 1049,1080 L1049,1130 C1049,1160 1061,1165 1061,1190 C1061,1215 1049,1225 1049,1250 M1049,1340 C1049,1365 1061,1372 1061,1395 C1061,1420 1049,1430 1049,1460 L1049,1520 C1049,1548 1061,1556 1061,1580 C1061,1600 1052,1612 1050,1640 L1118,1700 L1186,1700 L1259,1637 L1259,945 L1190,880 L1118,880" fill="none" stroke="#dc2a25" stroke-width="1.2" transform="translate(-2.2,-1)"/>
<path d="M1116,870 L1040,942 L1040,962 C1040,985 1051,992 1051,1015 C1051,1040 1039,1050 1039,1080 L1039,1130 C1039,1160 1051,1165 1051,1190 C1051,1215 1039,1225 1039,1250 M1039,1340 C1039,1365 1051,1372 1051,1395 C1051,1420 1039,1430 1039,1460 L1039,1520 C1039,1548 1051,1556 1051,1580 C1051,1600 1042,1612 1040,1646 L1114,1711 L1190,1711 L1268.5,1642 L1268.5,942 L1194,870 L1116,870" fill="none" stroke="#a80000" stroke-width="2" stroke-linejoin="round"/>
<path d="M1012,927 L1060,927 M1012,927 A18,18 0 0 0 1012,963 L1040,963" fill="none" stroke="#a80000" stroke-width="1.5"/>
<circle cx="1251" cy="1098" r="18" fill="#c40c08" stroke="#a00000" stroke-width="2.5"/>
<path d="M1240,1112 L1252,1128" fill="none" stroke="#e33" stroke-width="2"/>
<circle cx="1251" cy="1458" r="18" fill="#c40c08" stroke="#a00000" stroke-width="2.5"/>
<path d="M1240,1472 L1252,1488" fill="none" stroke="#e33" stroke-width="2"/>
<rect x="1278" y="858" width="38" height="687" fill="#c10a06" />
<rect x="1316" y="861" width="76" height="684" fill="#b00301" />
<rect x="1342" y="861.5" width="49" height="13.5" fill="#777" />
<linearGradient id="gapg" x1="0" x2="1" y1="0" y2="0"><stop offset="0" stop-color="#0a0a0a"/><stop offset="0.3" stop-color="#5a5a5a"/><stop offset="0.62" stop-color="#1a1a1a"/><stop offset="0.68" stop-color="#050505"/><stop offset="1" stop-color="#050505"/></linearGradient>
<rect x="1317" y="956" width="73.6" height="107" fill="url(#gapg)" />
<rect x="1317" y="956" width="73.6" height="8" fill="#0a0a0a" />
<rect x="1326" y="996" width="42" height="2" fill="#101010" />
<rect x="1317" y="1146" width="73.6" height="105" fill="url(#gapg)" />
<rect x="1317" y="1146" width="73.6" height="8" fill="#0a0a0a" />
<rect x="1326" y="1186" width="42" height="2" fill="#101010" />
<rect x="1317" y="1334.5" width="54" height="105.5" fill="url(#gapg)" />
<rect x="1317" y="1334.5" width="54" height="8.0" fill="#0a0a0a" />
<rect x="1326" y="1374.5" width="42" height="2.0" fill="#101010" />
<rect x="1343.5" y="874" width="47.1" height="82" fill="url(#bossh)" />
<rect x="1343.5" y="1063" width="47.1" height="83" fill="url(#bossh)" />
<rect x="1343.5" y="1251" width="47.1" height="83.5" fill="url(#bossh)" />
<rect x="1343.5" y="1440" width="47.1" height="44" fill="url(#bossh)" />
<rect x="1317" y="918" width="27" height="30" fill="url(#bossh)" />
<rect x="1317" y="1070" width="27" height="66" fill="url(#bossh)" />
<rect x="1317" y="1258" width="27" height="69" fill="url(#bossh)" />
<rect x="1317" y="1444" width="27" height="36" fill="url(#bossh)" />
<rect x="1280" y="918" width="34.5" height="48" fill="url(#bossh)" />
<rect x="1280" y="1066" width="34.5" height="80" fill="url(#bossh)" />
<rect x="1280" y="1291" width="34.5" height="65" fill="url(#bossh)" />
<rect x="1280" y="1400" width="34.5" height="68" fill="url(#bossh)" />
<rect x="1278.3" y="858" width="1.7" height="683" fill="#f0e6e6" />
<rect x="1314.3" y="858" width="1.7" height="683" fill="#f0e6e6" />
<linearGradient id="tankd" x1="0" x2="1" y1="0" y2="0"><stop offset="0" stop-color="#860000"/><stop offset="0.4" stop-color="#720000"/><stop offset="0.85" stop-color="#700000"/><stop offset="1" stop-color="#8a0000"/></linearGradient>
<rect x="1390.6" y="837" width="40.9" height="690" fill="url(#tankd)" />
<rect x="1431" y="837" width="120" height="690" fill="#c10a06" />
<rect x="1405" y="831" width="146" height="7" fill="#d01814" />
<rect x="1551" y="837" width="13" height="736" fill="#c10a06" />
<rect x="1553.6" y="1003" width="3.4" height="393" fill="#8a8f94" />
<path d="M1554,1396 Q1560,1420 1557,1545" fill="none" stroke="#d8dadc" stroke-width="2.5"/>
<rect x="1556" y="930" width="2.5" height="30" fill="#222" />
<rect x="1415" y="1255" width="16" height="50" fill="#d01410" />
<path d="M1431,1296 L1427.5,1327 C1415,1375 1390,1425 1373,1457.7 C1358,1487 1345,1515 1338,1545 L1431,1545 Z" fill="#c60c08" />
<path d="M1427.5,1327 C1415,1375 1390,1425 1373,1457.7 C1358,1487 1345,1515 1338,1545" fill="none" stroke="#e8342f" stroke-width="4"/>
<linearGradient id="tubeg" gradientUnits="userSpaceOnUse" x1="1360" x2="1431" y1="0" y2="0"><stop offset="0" stop-color="#d81814" stop-opacity="1"/><stop offset="1" stop-color="#a80000" stop-opacity="1"/></linearGradient>
<path d="M1431,1340 C1420,1400 1400,1450 1380,1480 L1365,1545 L1431,1545 Z" fill="url(#tubeg)" opacity="0.7"/>
<radialGradient id="capg" cx="0.5" cy="0.5" r="0.5"><stop offset="0" stop-color="#8a8a8a"/><stop offset="0.3" stop-color="#6a6a6a"/><stop offset="0.75" stop-color="#5c5c5c"/><stop offset="1" stop-color="#3c3c3c"/></radialGradient>
<ellipse cx="1436" cy="1279.4" rx="12" ry="11" fill="#6b6b6b" stroke="#1c1c1c" stroke-width="2"/>
<ellipse cx="1549" cy="1279.4" rx="12" ry="11" fill="#6b6b6b" stroke="#1c1c1c" stroke-width="2"/>
<circle cx="1492" cy="1279.4" r="59" fill="#6b6b6b" stroke="#1c1c1c" stroke-width="2"/>
<circle cx="1492" cy="1279.4" r="57" fill="#6b6b6b" />
<circle cx="1492" cy="1279.4" r="36" fill="#6d6d6d" stroke="#2e2e2e" stroke-width="1.5"/>
<circle cx="1492" cy="1279" r="32" fill="none" stroke="#444" stroke-width="1"/>
<circle cx="1492" cy="1279" r="20" fill="#6e6e6e" stroke="#3a3a3a" stroke-width="2"/>
<circle cx="1492" cy="1279" r="13" fill="#747474" stroke="#444" stroke-width="1.5"/>
<rect x="796" y="860" width="208" height="13" fill="#1a1a1a" />
<rect x="830" y="862" width="174" height="6" fill="#5a5a5a" />
<rect x="965" y="861" width="2" height="8" fill="#222" />
<path d="M1004,861 L1010,866 L1100,866" fill="none" stroke="#a00000" stroke-width="2"/>
<linearGradient id="h20" gradientUnits="userSpaceOnUse" x1="805" y1="1745" x2="770" y2="1895"><stop offset="0" stop-color="#0a0a0a"/><stop offset="0.08" stop-color="#343534"/><stop offset="0.22" stop-color="#6c6e6b"/><stop offset="0.42" stop-color="#3a3b3a"/><stop offset="0.68" stop-color="#0b0c0b"/><stop offset="1" stop-color="#030403"/></linearGradient>
<linearGradient id="hlight" x1="0" x2="1" y1="0" y2="0"><stop offset="0" stop-color="#1e1e1e"/><stop offset="0.5" stop-color="#6b6b6b"/><stop offset="1" stop-color="#2a2a2a"/></linearGradient>
<rect x="590" y="1573" width="82" height="147" fill="#fefefe" />
<rect x="590" y="1611" width="84" height="109" fill="#fefefe" />
<rect x="603" y="1404" width="70" height="168" rx="9" fill="#7a7a7a" stroke="#d5d5d5" stroke-width="1.5"/>
<polygon points="607,1407 635,1407 635,1420 607,1420" fill="#c5cad0" />
<polygon points="607,1546 618,1538 630,1546 630,1562 618,1570 607,1562" fill="#c9ced4" />
<path d="M612,1470 Q604,1500 622,1540 L640,1540 Q622,1500 634,1462 Z" fill="#c3c8cd" />
<rect x="639" y="1407.5" width="13" height="12.0" fill="#9aa0a5" />
<rect x="652" y="1407.5" width="11.5" height="12.0" fill="#b4babf" />
<rect x="657" y="1403" width="7" height="4" fill="#8bc34a" />
<rect x="652" y="1428" width="10" height="10" fill="#c8c8c8" />
<path d="M691,1625 L691,1525 C691,1500 682,1490 668,1484" fill="none" stroke="#151515" stroke-width="27.00" stroke-linecap="butt" stroke-linejoin="round" />
<path d="M691,1625 L691,1525 C691,1500 682,1490 668,1484" fill="none" stroke="#161616" stroke-width="25.72" stroke-linecap="butt" stroke-linejoin="round" />
<path d="M691,1625 L691,1525 C691,1500 682,1490 668,1484" fill="none" stroke="#181818" stroke-width="24.44" stroke-linecap="butt" stroke-linejoin="round" />
<path d="M691,1625 L691,1525 C691,1500 682,1490 668,1484" fill="none" stroke="#1c1c1c" stroke-width="23.16" stroke-linecap="butt" stroke-linejoin="round" />
<path d="M691,1625 L691,1525 C691,1500 682,1490 668,1484" fill="none" stroke="#202020" stroke-width="21.88" stroke-linecap="butt" stroke-linejoin="round" />
<path d="M691,1625 L691,1525 C691,1500 682,1490 668,1484" fill="none" stroke="#242424" stroke-width="20.61" stroke-linecap="butt" stroke-linejoin="round" />
<path d="M691,1625 L691,1525 C691,1500 682,1490 668,1484" fill="none" stroke="#2a2a2a" stroke-width="19.33" stroke-linecap="butt" stroke-linejoin="round" />
<path d="M691,1625 L691,1525 C691,1500 682,1490 668,1484" fill="none" stroke="#2f2f2f" stroke-width="18.05" stroke-linecap="butt" stroke-linejoin="round" />
<path d="M691,1625 L691,1525 C691,1500 682,1490 668,1484" fill="none" stroke="#353535" stroke-width="16.77" stroke-linecap="butt" stroke-linejoin="round" />
<path d="M691,1625 L691,1525 C691,1500 682,1490 668,1484" fill="none" stroke="#3b3b3b" stroke-width="15.49" stroke-linecap="butt" stroke-linejoin="round" />
<path d="M691,1625 L691,1525 C691,1500 682,1490 668,1484" fill="none" stroke="#404040" stroke-width="14.21" stroke-linecap="butt" stroke-linejoin="round" />
<path d="M691,1625 L691,1525 C691,1500 682,1490 668,1484" fill="none" stroke="#464646" stroke-width="12.93" stroke-linecap="butt" stroke-linejoin="round" />
<path d="M691,1625 L691,1525 C691,1500 682,1490 668,1484" fill="none" stroke="#4b4b4b" stroke-width="11.65" stroke-linecap="butt" stroke-linejoin="round" />
<path d="M691,1625 L691,1525 C691,1500 682,1490 668,1484" fill="none" stroke="#505050" stroke-width="10.37" stroke-linecap="butt" stroke-linejoin="round" />
<path d="M691,1625 L691,1525 C691,1500 682,1490 668,1484" fill="none" stroke="#545454" stroke-width="9.09" stroke-linecap="butt" stroke-linejoin="round" />
<path d="M691,1625 L691,1525 C691,1500 682,1490 668,1484" fill="none" stroke="#575757" stroke-width="7.82" stroke-linecap="butt" stroke-linejoin="round" />
<path d="M691,1625 L691,1525 C691,1500 682,1490 668,1484" fill="none" stroke="#5a5a5a" stroke-width="6.54" stroke-linecap="butt" stroke-linejoin="round" />
<path d="M691,1625 L691,1525 C691,1500 682,1490 668,1484" fill="none" stroke="#5c5c5c" stroke-width="5.26" stroke-linecap="butt" stroke-linejoin="round" />
<path d="M691,1625 L691,1525 C691,1500 682,1490 668,1484" fill="none" stroke="#5e5e5e" stroke-width="3.98" stroke-linecap="butt" stroke-linejoin="round" />
<path d="M691,1625 L691,1525 C691,1500 682,1490 668,1484" fill="none" stroke="#5e5e5e" stroke-width="2.70" stroke-linecap="butt" stroke-linejoin="round" />
<rect x="677" y="1479" width="13" height="18" fill="#fefefe" />
<path d="M677,1479 L690,1479 L690,1497 Q677,1492 677,1479 Z" fill="#fefefe" />
<path d="M651,1610 L645,1530 C641,1494 617,1484 626,1466 C633,1452 650,1458 668,1458 C705,1460 729.3,1492 729.3,1532 L729.3,1553" fill="none" stroke="#050605" stroke-width="33.00" stroke-linecap="round" stroke-linejoin="round" transform="translate(0.00,-0.00)" />
<path d="M651,1610 L645,1530 C641,1494 617,1484 626,1466 C633,1452 650,1458 668,1458 C705,1460 729.3,1492 729.3,1532 L729.3,1553" fill="none" stroke="#060706" stroke-width="31.44" stroke-linecap="round" stroke-linejoin="round" transform="translate(0.21,-0.16)" />
<path d="M651,1610 L645,1530 C641,1494 617,1484 626,1466 C633,1452 650,1458 668,1458 C705,1460 729.3,1492 729.3,1532 L729.3,1553" fill="none" stroke="#080908" stroke-width="29.87" stroke-linecap="round" stroke-linejoin="round" transform="translate(0.42,-0.32)" />
<path d="M651,1610 L645,1530 C641,1494 617,1484 626,1466 C633,1452 650,1458 668,1458 C705,1460 729.3,1492 729.3,1532 L729.3,1553" fill="none" stroke="#0b0c0b" stroke-width="28.31" stroke-linecap="round" stroke-linejoin="round" transform="translate(0.63,-0.47)" />
<path d="M651,1610 L645,1530 C641,1494 617,1484 626,1466 C633,1452 650,1458 668,1458 C705,1460 729.3,1492 729.3,1532 L729.3,1553" fill="none" stroke="#0e0f0e" stroke-width="26.75" stroke-linecap="round" stroke-linejoin="round" transform="translate(0.84,-0.63)" />
<path d="M651,1610 L645,1530 C641,1494 617,1484 626,1466 C633,1452 650,1458 668,1458 C705,1460 729.3,1492 729.3,1532 L729.3,1553" fill="none" stroke="#121412" stroke-width="25.18" stroke-linecap="round" stroke-linejoin="round" transform="translate(1.05,-0.79)" />
<path d="M651,1610 L645,1530 C641,1494 617,1484 626,1466 C633,1452 650,1458 668,1458 C705,1460 729.3,1492 729.3,1532 L729.3,1553" fill="none" stroke="#171817" stroke-width="23.62" stroke-linecap="round" stroke-linejoin="round" transform="translate(1.26,-0.95)" />
<path d="M651,1610 L645,1530 C641,1494 617,1484 626,1466 C633,1452 650,1458 668,1458 C705,1460 729.3,1492 729.3,1532 L729.3,1553" fill="none" stroke="#1c1d1c" stroke-width="22.06" stroke-linecap="round" stroke-linejoin="round" transform="translate(1.47,-1.11)" />
<path d="M651,1610 L645,1530 C641,1494 617,1484 626,1466 C633,1452 650,1458 668,1458 C705,1460 729.3,1492 729.3,1532 L729.3,1553" fill="none" stroke="#212221" stroke-width="20.49" stroke-linecap="round" stroke-linejoin="round" transform="translate(1.68,-1.26)" />
<path d="M651,1610 L645,1530 C641,1494 617,1484 626,1466 C633,1452 650,1458 668,1458 C705,1460 729.3,1492 729.3,1532 L729.3,1553" fill="none" stroke="#252725" stroke-width="18.93" stroke-linecap="round" stroke-linejoin="round" transform="translate(1.89,-1.42)" />
<path d="M651,1610 L645,1530 C641,1494 617,1484 626,1466 C633,1452 650,1458 668,1458 C705,1460 729.3,1492 729.3,1532 L729.3,1553" fill="none" stroke="#2a2c2a" stroke-width="17.37" stroke-linecap="round" stroke-linejoin="round" transform="translate(2.11,-1.58)" />
<path d="M651,1610 L645,1530 C641,1494 617,1484 626,1466 C633,1452 650,1458 668,1458 C705,1460 729.3,1492 729.3,1532 L729.3,1553" fill="none" stroke="#2f312f" stroke-width="15.81" stroke-linecap="round" stroke-linejoin="round" transform="translate(2.32,-1.74)" />
<path d="M651,1610 L645,1530 C641,1494 617,1484 626,1466 C633,1452 650,1458 668,1458 C705,1460 729.3,1492 729.3,1532 L729.3,1553" fill="none" stroke="#343534" stroke-width="14.24" stroke-linecap="round" stroke-linejoin="round" transform="translate(2.53,-1.89)" />
<path d="M651,1610 L645,1530 C641,1494 617,1484 626,1466 C633,1452 650,1458 668,1458 C705,1460 729.3,1492 729.3,1532 L729.3,1553" fill="none" stroke="#383938" stroke-width="12.68" stroke-linecap="round" stroke-linejoin="round" transform="translate(2.74,-2.05)" />
<path d="M651,1610 L645,1530 C641,1494 617,1484 626,1466 C633,1452 650,1458 668,1458 C705,1460 729.3,1492 729.3,1532 L729.3,1553" fill="none" stroke="#3b3d3b" stroke-width="11.12" stroke-linecap="round" stroke-linejoin="round" transform="translate(2.95,-2.21)" />
<path d="M651,1610 L645,1530 C641,1494 617,1484 626,1466 C633,1452 650,1458 668,1458 C705,1460 729.3,1492 729.3,1532 L729.3,1553" fill="none" stroke="#3e403e" stroke-width="9.55" stroke-linecap="round" stroke-linejoin="round" transform="translate(3.16,-2.37)" />
<path d="M651,1610 L645,1530 C641,1494 617,1484 626,1466 C633,1452 650,1458 668,1458 C705,1460 729.3,1492 729.3,1532 L729.3,1553" fill="none" stroke="#414341" stroke-width="7.99" stroke-linecap="round" stroke-linejoin="round" transform="translate(3.37,-2.53)" />
<path d="M651,1610 L645,1530 C641,1494 617,1484 626,1466 C633,1452 650,1458 668,1458 C705,1460 729.3,1492 729.3,1532 L729.3,1553" fill="none" stroke="#434543" stroke-width="6.43" stroke-linecap="round" stroke-linejoin="round" transform="translate(3.58,-2.68)" />
<path d="M651,1610 L645,1530 C641,1494 617,1484 626,1466 C633,1452 650,1458 668,1458 C705,1460 729.3,1492 729.3,1532 L729.3,1553" fill="none" stroke="#444644" stroke-width="4.86" stroke-linecap="round" stroke-linejoin="round" transform="translate(3.79,-2.84)" />
<path d="M651,1610 L645,1530 C641,1494 617,1484 626,1466 C633,1452 650,1458 668,1458 C705,1460 729.3,1492 729.3,1532 L729.3,1553" fill="none" stroke="#444644" stroke-width="3.30" stroke-linecap="round" stroke-linejoin="round" transform="translate(4.00,-3.00)" />
<ellipse cx="649" cy="1590" rx="18" ry="14" fill="none" stroke="#9a9a9a" stroke-width="1.2"/>
<rect x="709.5" y="1551.5" width="39.0" height="53.5" fill="url(#hlight)" />
<rect x="720.5" y="1604" width="18.0" height="10" fill="#3a3a3a" />
<rect x="719.5" y="1613" width="30" height="47" rx="10" fill="url(#hlight)"/>
<rect x="668" y="1614" width="34" height="36" rx="6" fill="#d41410" stroke="#9a0000" stroke-width="1.5"/>
<rect x="700" y="1618" width="20" height="30" fill="#c80e0a" />
<path d="M676,1650 Q672,1668 686,1672" fill="none" stroke="#d41410" stroke-width="5"/>
<rect x="682" y="1560" width="18" height="52" fill="#d41410" />
<rect x="619" y="1596" width="6" height="40" fill="#333" />
<rect x="624.5" y="1593.5" width="17.0" height="45.5" fill="#e9a20f" />
<rect x="628" y="1612" width="10" height="24" fill="#c98a10" />
<rect x="641.5" y="1613" width="4.5" height="27" fill="#5a1a8a" />
<rect x="662" y="1613" width="6" height="27" fill="#5a1a8a" />
<rect x="649" y="1417" width="4.5" height="252" fill="#a9adb2" />
<circle cx="826.5" cy="1507.7" r="26" fill="#c40c08" stroke="#a80000" stroke-width="2"/>
<circle cx="826.5" cy="1558.4" r="26" fill="#c40c08" stroke="#a80000" stroke-width="2"/>
<circle cx="826.5" cy="1609" r="26" fill="#c40c08" stroke="#a80000" stroke-width="2"/>
<circle cx="826.5" cy="1659.8" r="26" fill="#c40c08" stroke="#a80000" stroke-width="2"/>
<polygon points="843.5,1507.7 835.0,1522.4 818.0,1522.4 809.5,1507.7 818.0,1493.0 835.0,1493.0" fill="#c80e0a" stroke="#a00000" stroke-width="1.5"/>
<circle cx="826.5" cy="1507.7" r="7" fill="none" stroke="#a00000" stroke-width="1.5"/>
<polygon points="843.5,1558.4 835.0,1573.1 818.0,1573.1 809.5,1558.4 818.0,1543.7 835.0,1543.7" fill="#c80e0a" stroke="#a00000" stroke-width="1.5"/>
<circle cx="826.5" cy="1558.4" r="7" fill="none" stroke="#a00000" stroke-width="1.5"/>
<polygon points="843.5,1609.0 835.0,1623.7 818.0,1623.7 809.5,1609.0 818.0,1594.3 835.0,1594.3" fill="#c80e0a" stroke="#a00000" stroke-width="1.5"/>
<circle cx="826.5" cy="1609" r="7" fill="none" stroke="#a00000" stroke-width="1.5"/>
<polygon points="843.5,1659.8 835.0,1674.5 818.0,1674.5 809.5,1659.8 818.0,1645.1 835.0,1645.1" fill="#c80e0a" stroke="#a00000" stroke-width="1.5"/>
<circle cx="826.5" cy="1659.8" r="7" fill="none" stroke="#a00000" stroke-width="1.5"/>
<rect x="674" y="1716" width="656" height="179" fill="#c10a06" />
<rect x="631" y="1742" width="49" height="88" fill="#c10a06" />
<rect x="674" y="1716" width="31" height="3" fill="#333" />
<rect x="980" y="1716" width="112" height="135" fill="#a40000" />
<rect x="700" y="1716" width="280" height="24" fill="#b80402" />
<rect x="672" y="1683" width="29" height="33" fill="#fefefe" />
<rect x="700" y="1700" width="5.5" height="15" fill="#8a8a8a" />
<rect x="673.6" y="1714.6" width="31.9" height="3.0" fill="#1a1a1a" />
<path d="M676,1650 Q672,1672 690,1676 L712,1682" fill="none" stroke="#d41410" stroke-width="6" stroke-linecap="round"/>
<rect x="866" y="1636" width="74" height="64" fill="#b00301" />
<rect x="878" y="1640" width="48" height="48" fill="#8c0000" />
<rect x="866" y="1688" width="64" height="12" fill="#a40000" />
<ellipse cx="648" cy="1774" rx="27" ry="52" fill="#c10a06" stroke="#a00000" stroke-width="2"/>
<ellipse cx="650" cy="1776" rx="16" ry="34" fill="none" stroke="#990000" stroke-width="3"/>
<ellipse cx="651" cy="1777" rx="9" ry="24" fill="#b00000"/>
<polygon points="1197.5,1625.7 1197.0,1629.2 1195.5,1632.6 1193.3,1635.8 1190.6,1638.7 1187.9,1641.4 1185.6,1643.9 1183.7,1646.5 1182.6,1649.3 1182.0,1652.5 1181.9,1656.0 1181.9,1659.7 1181.7,1663.6 1181.1,1667.5 1179.7,1670.9 1177.6,1673.8 1174.7,1675.9 1171.3,1677.3 1167.4,1677.9 1163.5,1678.1 1159.8,1678.1 1156.3,1678.2 1153.1,1678.8 1150.3,1679.9 1147.7,1681.8 1145.2,1684.1 1142.5,1686.8 1139.6,1689.5 1136.4,1691.7 1133.0,1693.2 1129.5,1693.7 1126.0,1693.2 1122.6,1691.7 1119.4,1689.5 1116.5,1686.8 1113.8,1684.1 1111.3,1681.8 1108.7,1679.9 1105.9,1678.8 1102.7,1678.2 1099.2,1678.1 1095.5,1678.1 1091.6,1677.9 1087.7,1677.3 1084.3,1675.9 1081.4,1673.8 1079.3,1670.9 1077.9,1667.5 1077.3,1663.6 1077.1,1659.7 1077.1,1656.0 1077.0,1652.5 1076.4,1649.3 1075.3,1646.5 1073.4,1643.9 1071.1,1641.4 1068.4,1638.7 1065.7,1635.8 1063.5,1632.6 1062.0,1629.2 1061.5,1625.7 1062.0,1622.2 1063.5,1618.8 1065.7,1615.6 1068.4,1612.7 1071.1,1610.0 1073.4,1607.5 1075.3,1604.9 1076.4,1602.1 1077.0,1598.9 1077.1,1595.5 1077.1,1591.7 1077.3,1587.8 1077.9,1583.9 1079.3,1580.5 1081.4,1577.6 1084.3,1575.5 1087.7,1574.1 1091.6,1573.5 1095.5,1573.3 1099.2,1573.3 1102.7,1573.2 1105.9,1572.6 1108.7,1571.5 1111.3,1569.6 1113.8,1567.3 1116.5,1564.6 1119.4,1561.9 1122.6,1559.7 1126.0,1558.2 1129.5,1557.7 1133.0,1558.2 1136.4,1559.7 1139.6,1561.9 1142.5,1564.6 1145.2,1567.3 1147.7,1569.6 1150.3,1571.5 1153.1,1572.6 1156.3,1573.2 1159.8,1573.3 1163.5,1573.3 1167.4,1573.5 1171.3,1574.1 1174.7,1575.5 1177.6,1577.6 1179.7,1580.5 1181.1,1583.9 1181.7,1587.8 1181.9,1591.7 1181.9,1595.5 1182.0,1598.9 1182.6,1602.1 1183.7,1604.9 1185.6,1607.5 1187.9,1610.0 1190.6,1612.7 1193.3,1615.6 1195.5,1618.8 1197.0,1622.2" fill="#cc100c" stroke="#9c0000" stroke-width="2.5"/>
<radialGradient id="ocap" gradientUnits="userSpaceOnUse" cx="1118" cy="1650" r="75"><stop offset="0" stop-color="#ff8a8a"/><stop offset="0.12" stop-color="#ff5050"/><stop offset="0.4" stop-color="#e01814"/><stop offset="0.8" stop-color="#c20a06"/><stop offset="1" stop-color="#b80402"/></radialGradient>
<circle cx="1129.5" cy="1625.7" r="56" fill="url(#ocap)" stroke="#a80000" stroke-width="1.5"/>
<path d="M1075,1612 A56,56 0 0 1 1184,1612 A70,60 0 0 0 1075,1612 Z" fill="#a40000" opacity="0.85"/>
<polygon points="1493,1573 1570,1573 1570,1624 1477,1624" fill="#fefefe" />
<rect x="1540" y="1611" width="30" height="79" fill="#fefefe" />
<path d="M1330,1851 L1330,1640 Q1330,1620 1352,1620 L1528,1620 Q1541,1620 1541,1634 L1541,1676 Q1541,1683 1550,1684 Q1558,1686 1558,1694 L1558,1716 Q1565,1722 1565,1730 L1565,1851 Z" fill="#cc100c" />
<path d="M1352,1621 L1528,1621 Q1540,1621 1540,1634 L1540,1676 Q1541,1683 1550,1684 Q1557,1686 1557,1694 L1557,1716" fill="none" stroke="#e8403c" stroke-width="2"/>
<rect x="1330" y="1786" width="235" height="4" fill="#a00000" />
<rect x="1330" y="1812" width="235" height="4" fill="#e3302c" />
<rect x="1340" y="1684" width="210" height="4" fill="#a80000" />
<rect x="1330" y="1836" width="235" height="15" fill="#c10a06" />
<path d="M1352,1745 L1510,1730" fill="none" stroke="#9aa0a5" stroke-width="3.5"/>
<rect x="1342" y="1937" width="148" height="18" fill="#b80402" />
<polygon points="1410,1527 1509,1527 1478,1618 1410,1620" fill="#0a0a0a" />
<rect x="1426" y="1598" width="50" height="23" fill="#c80e0a" />
<polygon points="1499,1527 1557,1527 1557,1560 1548,1571 1488,1571" fill="#c3c8cd" />
<polygon points="1527,1535 1540,1530 1552,1537 1552,1552 1540,1560 1527,1552" fill="#d9dde1" />
<rect x="1552" y="1527" width="12" height="46" fill="#c10a06" />
<path d="M1367,1600 C1372,1650 1364,1672 1349,1692 C1338,1706 1326,1716 1312,1724" fill="none" stroke="#050605" stroke-width="98" stroke-linecap="round" transform="translate(4,3)"/>
<path d="M1364.5,1525 L1366,1590 C1370,1650 1362,1670 1347,1689 C1325,1716 1300,1732 1251.5,1753" fill="none" stroke="#050605" stroke-width="91.00" stroke-linecap="butt" stroke-linejoin="round" transform="translate(0.00,-0.00)" />
<path d="M1364.5,1525 L1366,1590 C1370,1650 1362,1670 1347,1689 C1325,1716 1300,1732 1251.5,1753" fill="none" stroke="#070807" stroke-width="86.69" stroke-linecap="butt" stroke-linejoin="round" transform="translate(0.32,-0.16)" />
<path d="M1364.5,1525 L1366,1590 C1370,1650 1362,1670 1347,1689 C1325,1716 1300,1732 1251.5,1753" fill="none" stroke="#0a0b0a" stroke-width="82.38" stroke-linecap="butt" stroke-linejoin="round" transform="translate(0.63,-0.32)" />
<path d="M1364.5,1525 L1366,1590 C1370,1650 1362,1670 1347,1689 C1325,1716 1300,1732 1251.5,1753" fill="none" stroke="#0f100f" stroke-width="78.07" stroke-linecap="butt" stroke-linejoin="round" transform="translate(0.95,-0.47)" />
<path d="M1364.5,1525 L1366,1590 C1370,1650 1362,1670 1347,1689 C1325,1716 1300,1732 1251.5,1753" fill="none" stroke="#151615" stroke-width="73.76" stroke-linecap="butt" stroke-linejoin="round" transform="translate(1.26,-0.63)" />
<path d="M1364.5,1525 L1366,1590 C1370,1650 1362,1670 1347,1689 C1325,1716 1300,1732 1251.5,1753" fill="none" stroke="#1c1d1c" stroke-width="69.45" stroke-linecap="butt" stroke-linejoin="round" transform="translate(1.58,-0.79)" />
<path d="M1364.5,1525 L1366,1590 C1370,1650 1362,1670 1347,1689 C1325,1716 1300,1732 1251.5,1753" fill="none" stroke="#232523" stroke-width="65.14" stroke-linecap="butt" stroke-linejoin="round" transform="translate(1.89,-0.95)" />
<path d="M1364.5,1525 L1366,1590 C1370,1650 1362,1670 1347,1689 C1325,1716 1300,1732 1251.5,1753" fill="none" stroke="#2b2d2b" stroke-width="60.83" stroke-linecap="butt" stroke-linejoin="round" transform="translate(2.21,-1.11)" />
<path d="M1364.5,1525 L1366,1590 C1370,1650 1362,1670 1347,1689 C1325,1716 1300,1732 1251.5,1753" fill="none" stroke="#343534" stroke-width="56.52" stroke-linecap="butt" stroke-linejoin="round" transform="translate(2.53,-1.26)" />
<path d="M1364.5,1525 L1366,1590 C1370,1650 1362,1670 1347,1689 C1325,1716 1300,1732 1251.5,1753" fill="none" stroke="#3c3e3c" stroke-width="52.21" stroke-linecap="butt" stroke-linejoin="round" transform="translate(2.84,-1.42)" />
<path d="M1364.5,1525 L1366,1590 C1370,1650 1362,1670 1347,1689 C1325,1716 1300,1732 1251.5,1753" fill="none" stroke="#454645" stroke-width="47.89" stroke-linecap="butt" stroke-linejoin="round" transform="translate(3.16,-1.58)" />
<path d="M1364.5,1525 L1366,1590 C1370,1650 1362,1670 1347,1689 C1325,1716 1300,1732 1251.5,1753" fill="none" stroke="#4d4e4d" stroke-width="43.58" stroke-linecap="butt" stroke-linejoin="round" transform="translate(3.47,-1.74)" />
<path d="M1364.5,1525 L1366,1590 C1370,1650 1362,1670 1347,1689 C1325,1716 1300,1732 1251.5,1753" fill="none" stroke="#545654" stroke-width="39.27" stroke-linecap="butt" stroke-linejoin="round" transform="translate(3.79,-1.89)" />
<path d="M1364.5,1525 L1366,1590 C1370,1650 1362,1670 1347,1689 C1325,1716 1300,1732 1251.5,1753" fill="none" stroke="#5b5d5b" stroke-width="34.96" stroke-linecap="butt" stroke-linejoin="round" transform="translate(4.11,-2.05)" />
<path d="M1364.5,1525 L1366,1590 C1370,1650 1362,1670 1347,1689 C1325,1716 1300,1732 1251.5,1753" fill="none" stroke="#616361" stroke-width="30.65" stroke-linecap="butt" stroke-linejoin="round" transform="translate(4.42,-2.21)" />
<path d="M1364.5,1525 L1366,1590 C1370,1650 1362,1670 1347,1689 C1325,1716 1300,1732 1251.5,1753" fill="none" stroke="#666866" stroke-width="26.34" stroke-linecap="butt" stroke-linejoin="round" transform="translate(4.74,-2.37)" />
<path d="M1364.5,1525 L1366,1590 C1370,1650 1362,1670 1347,1689 C1325,1716 1300,1732 1251.5,1753" fill="none" stroke="#6a6c6a" stroke-width="22.03" stroke-linecap="butt" stroke-linejoin="round" transform="translate(5.05,-2.53)" />
<path d="M1364.5,1525 L1366,1590 C1370,1650 1362,1670 1347,1689 C1325,1716 1300,1732 1251.5,1753" fill="none" stroke="#6e706e" stroke-width="17.72" stroke-linecap="butt" stroke-linejoin="round" transform="translate(5.37,-2.68)" />
<path d="M1364.5,1525 L1366,1590 C1370,1650 1362,1670 1347,1689 C1325,1716 1300,1732 1251.5,1753" fill="none" stroke="#6f716f" stroke-width="13.41" stroke-linecap="butt" stroke-linejoin="round" transform="translate(5.68,-2.84)" />
<path d="M1364.5,1525 L1366,1590 C1370,1650 1362,1670 1347,1689 C1325,1716 1300,1732 1251.5,1753" fill="none" stroke="#707270" stroke-width="9.10" stroke-linecap="butt" stroke-linejoin="round" transform="translate(6.00,-3.00)" />
<path d="M1170,1760 L1232,1722 L1262,1790 L1215,1815 Z" fill="#d41410" />
<path d="M1178,1752 L1236,1716" fill="none" stroke="#f03a36" stroke-width="5"/>
<path d="M1220,1812 L1265,1788" fill="none" stroke="#9a0000" stroke-width="5"/>
<circle cx="1177" cy="1786" r="46" fill="#d01410" stroke="#a80000" stroke-width="1.5"/>
<path d="M1125,1790 L1160,1770 L1180,1810 L1140,1838 Z" fill="#d01410" />
<path d="M1105,1740 Q1120,1716 1150,1722 L1175,1740 L1130,1790 Z" fill="#c80e0a" stroke="#e3302c" stroke-width="1.5"/>
<rect x="1074" y="1734" width="34" height="56" fill="#c80e0a" />
<rect x="1094" y="1728" width="14" height="68" fill="#d81814" />
<rect x="1166.8" y="1752" width="20.2" height="67" fill="#ffb000" />
<circle cx="1177" cy="1785" r="13.5" fill="#ffb000" />
<circle cx="1177" cy="1785" r="3.2" fill="#d01410" />
<path d="M745,1797.6 L950,1797.6 C1010,1797.6 1020,1819 1070,1819 L1075,1819" fill="none" stroke="#050605" stroke-width="45.00" stroke-linecap="round" stroke-linejoin="round" transform="translate(0.00,-0.00)" />
<path d="M745,1797.6 L950,1797.6 C1010,1797.6 1020,1819 1070,1819 L1075,1819" fill="none" stroke="#050605" stroke-width="42.87" stroke-linecap="round" stroke-linejoin="round" transform="translate(0.00,-0.37)" />
<path d="M745,1797.6 L950,1797.6 C1010,1797.6 1020,1819 1070,1819 L1075,1819" fill="none" stroke="#060706" stroke-width="40.74" stroke-linecap="round" stroke-linejoin="round" transform="translate(0.00,-0.74)" />
<path d="M745,1797.6 L950,1797.6 C1010,1797.6 1020,1819 1070,1819 L1075,1819" fill="none" stroke="#090a09" stroke-width="38.61" stroke-linecap="round" stroke-linejoin="round" transform="translate(0.00,-1.11)" />
<path d="M745,1797.6 L950,1797.6 C1010,1797.6 1020,1819 1070,1819 L1075,1819" fill="none" stroke="#0c0e0c" stroke-width="36.47" stroke-linecap="round" stroke-linejoin="round" transform="translate(0.00,-1.47)" />
<path d="M745,1797.6 L950,1797.6 C1010,1797.6 1020,1819 1070,1819 L1075,1819" fill="none" stroke="#111311" stroke-width="34.34" stroke-linecap="round" stroke-linejoin="round" transform="translate(0.00,-1.84)" />
<path d="M745,1797.6 L950,1797.6 C1010,1797.6 1020,1819 1070,1819 L1075,1819" fill="none" stroke="#181918" stroke-width="32.21" stroke-linecap="round" stroke-linejoin="round" transform="translate(0.00,-2.21)" />
<path d="M745,1797.6 L950,1797.6 C1010,1797.6 1020,1819 1070,1819 L1075,1819" fill="none" stroke="#1f201f" stroke-width="30.08" stroke-linecap="round" stroke-linejoin="round" transform="translate(0.00,-2.58)" />
<path d="M745,1797.6 L950,1797.6 C1010,1797.6 1020,1819 1070,1819 L1075,1819" fill="none" stroke="#272927" stroke-width="27.95" stroke-linecap="round" stroke-linejoin="round" transform="translate(0.00,-2.95)" />
<path d="M745,1797.6 L950,1797.6 C1010,1797.6 1020,1819 1070,1819 L1075,1819" fill="none" stroke="#313230" stroke-width="25.82" stroke-linecap="round" stroke-linejoin="round" transform="translate(0.00,-3.32)" />
<path d="M745,1797.6 L950,1797.6 C1010,1797.6 1020,1819 1070,1819 L1075,1819" fill="none" stroke="#3a3c3a" stroke-width="23.68" stroke-linecap="round" stroke-linejoin="round" transform="translate(0.00,-3.68)" />
<path d="M745,1797.6 L950,1797.6 C1010,1797.6 1020,1819 1070,1819 L1075,1819" fill="none" stroke="#444543" stroke-width="21.55" stroke-linecap="round" stroke-linejoin="round" transform="translate(0.00,-4.05)" />
<path d="M745,1797.6 L950,1797.6 C1010,1797.6 1020,1819 1070,1819 L1075,1819" fill="none" stroke="#4d4f4d" stroke-width="19.42" stroke-linecap="round" stroke-linejoin="round" transform="translate(0.00,-4.42)" />
<path d="M745,1797.6 L950,1797.6 C1010,1797.6 1020,1819 1070,1819 L1075,1819" fill="none" stroke="#575856" stroke-width="17.29" stroke-linecap="round" stroke-linejoin="round" transform="translate(0.00,-4.79)" />
<path d="M745,1797.6 L950,1797.6 C1010,1797.6 1020,1819 1070,1819 L1075,1819" fill="none" stroke="#5f615e" stroke-width="15.16" stroke-linecap="round" stroke-linejoin="round" transform="translate(0.00,-5.16)" />
<path d="M745,1797.6 L950,1797.6 C1010,1797.6 1020,1819 1070,1819 L1075,1819" fill="none" stroke="#666865" stroke-width="13.03" stroke-linecap="round" stroke-linejoin="round" transform="translate(0.00,-5.53)" />
<path d="M745,1797.6 L950,1797.6 C1010,1797.6 1020,1819 1070,1819 L1075,1819" fill="none" stroke="#6c6e6b" stroke-width="10.89" stroke-linecap="round" stroke-linejoin="round" transform="translate(0.00,-5.89)" />
<path d="M745,1797.6 L950,1797.6 C1010,1797.6 1020,1819 1070,1819 L1075,1819" fill="none" stroke="#70726f" stroke-width="8.76" stroke-linecap="round" stroke-linejoin="round" transform="translate(0.00,-6.26)" />
<path d="M745,1797.6 L950,1797.6 C1010,1797.6 1020,1819 1070,1819 L1075,1819" fill="none" stroke="#737572" stroke-width="6.63" stroke-linecap="round" stroke-linejoin="round" transform="translate(0.00,-6.63)" />
<path d="M745,1797.6 L950,1797.6 C1010,1797.6 1020,1819 1070,1819 L1075,1819" fill="none" stroke="#747673" stroke-width="4.50" stroke-linecap="round" stroke-linejoin="round" transform="translate(0.00,-7.00)" />
<path d="M1096,1802 L1120,1795 L1128,1824 L1104,1832 Z" fill="#e8a818" />
<path d="M1106,1814 L1122,1809 L1126,1824 L1110,1829 Z" fill="#b8860b" />
<path d="M1093,1797 L1097,1840 L1112,1846 L1130,1838 L1122,1800 Z" fill="none" stroke="#c80e0a" stroke-width="4"/>
<path d="M872.5,1754.7 L863.7,1746 C845,1745 805,1748 782,1757 C760,1766 740,1778 710,1796.5 L666,1823 C650,1832 637,1843 637.4,1842.6 C626,1852 622,1868 624,1876 C626,1895 640,1912 660,1917 C675,1921 690,1915 699,1911 L732,1897.6 L798,1866.8 C815,1859 830,1852 842,1849 L872.5,1845 Z" fill="url(#h20)" />
<rect x="868" y="1750" width="8" height="96" fill="#0c0c0c" />
<path d="M745,1797.6 L950,1797.6 C1010,1797.6 1020,1819 1070,1819 L1075,1819" fill="none" stroke="#050605" stroke-width="45.00" stroke-linecap="round" stroke-linejoin="round" transform="translate(0.00,-0.00)" />
<path d="M745,1797.6 L950,1797.6 C1010,1797.6 1020,1819 1070,1819 L1075,1819" fill="none" stroke="#050605" stroke-width="42.87" stroke-linecap="round" stroke-linejoin="round" transform="translate(0.00,-0.37)" />
<path d="M745,1797.6 L950,1797.6 C1010,1797.6 1020,1819 1070,1819 L1075,1819" fill="none" stroke="#060706" stroke-width="40.74" stroke-linecap="round" stroke-linejoin="round" transform="translate(0.00,-0.74)" />
<path d="M745,1797.6 L950,1797.6 C1010,1797.6 1020,1819 1070,1819 L1075,1819" fill="none" stroke="#090a09" stroke-width="38.61" stroke-linecap="round" stroke-linejoin="round" transform="translate(0.00,-1.11)" />
<path d="M745,1797.6 L950,1797.6 C1010,1797.6 1020,1819 1070,1819 L1075,1819" fill="none" stroke="#0c0e0c" stroke-width="36.47" stroke-linecap="round" stroke-linejoin="round" transform="translate(0.00,-1.47)" />
<path d="M745,1797.6 L950,1797.6 C1010,1797.6 1020,1819 1070,1819 L1075,1819" fill="none" stroke="#111311" stroke-width="34.34" stroke-linecap="round" stroke-linejoin="round" transform="translate(0.00,-1.84)" />
<path d="M745,1797.6 L950,1797.6 C1010,1797.6 1020,1819 1070,1819 L1075,1819" fill="none" stroke="#181918" stroke-width="32.21" stroke-linecap="round" stroke-linejoin="round" transform="translate(0.00,-2.21)" />
<path d="M745,1797.6 L950,1797.6 C1010,1797.6 1020,1819 1070,1819 L1075,1819" fill="none" stroke="#1f201f" stroke-width="30.08" stroke-linecap="round" stroke-linejoin="round" transform="translate(0.00,-2.58)" />
<path d="M745,1797.6 L950,1797.6 C1010,1797.6 1020,1819 1070,1819 L1075,1819" fill="none" stroke="#272927" stroke-width="27.95" stroke-linecap="round" stroke-linejoin="round" transform="translate(0.00,-2.95)" />
<path d="M745,1797.6 L950,1797.6 C1010,1797.6 1020,1819 1070,1819 L1075,1819" fill="none" stroke="#313230" stroke-width="25.82" stroke-linecap="round" stroke-linejoin="round" transform="translate(0.00,-3.32)" />
<path d="M745,1797.6 L950,1797.6 C1010,1797.6 1020,1819 1070,1819 L1075,1819" fill="none" stroke="#3a3c3a" stroke-width="23.68" stroke-linecap="round" stroke-linejoin="round" transform="translate(0.00,-3.68)" />
<path d="M745,1797.6 L950,1797.6 C1010,1797.6 1020,1819 1070,1819 L1075,1819" fill="none" stroke="#444543" stroke-width="21.55" stroke-linecap="round" stroke-linejoin="round" transform="translate(0.00,-4.05)" />
<path d="M745,1797.6 L950,1797.6 C1010,1797.6 1020,1819 1070,1819 L1075,1819" fill="none" stroke="#4d4f4d" stroke-width="19.42" stroke-linecap="round" stroke-linejoin="round" transform="translate(0.00,-4.42)" />
<path d="M745,1797.6 L950,1797.6 C1010,1797.6 1020,1819 1070,1819 L1075,1819" fill="none" stroke="#575856" stroke-width="17.29" stroke-linecap="round" stroke-linejoin="round" transform="translate(0.00,-4.79)" />
<path d="M745,1797.6 L950,1797.6 C1010,1797.6 1020,1819 1070,1819 L1075,1819" fill="none" stroke="#5f615e" stroke-width="15.16" stroke-linecap="round" stroke-linejoin="round" transform="translate(0.00,-5.16)" />
<path d="M745,1797.6 L950,1797.6 C1010,1797.6 1020,1819 1070,1819 L1075,1819" fill="none" stroke="#666865" stroke-width="13.03" stroke-linecap="round" stroke-linejoin="round" transform="translate(0.00,-5.53)" />
<path d="M745,1797.6 L950,1797.6 C1010,1797.6 1020,1819 1070,1819 L1075,1819" fill="none" stroke="#6c6e6b" stroke-width="10.89" stroke-linecap="round" stroke-linejoin="round" transform="translate(0.00,-5.89)" />
<path d="M745,1797.6 L950,1797.6 C1010,1797.6 1020,1819 1070,1819 L1075,1819" fill="none" stroke="#70726f" stroke-width="8.76" stroke-linecap="round" stroke-linejoin="round" transform="translate(0.00,-6.26)" />
<path d="M745,1797.6 L950,1797.6 C1010,1797.6 1020,1819 1070,1819 L1075,1819" fill="none" stroke="#737572" stroke-width="6.63" stroke-linecap="round" stroke-linejoin="round" transform="translate(0.00,-6.63)" />
<path d="M745,1797.6 L950,1797.6 C1010,1797.6 1020,1819 1070,1819 L1075,1819" fill="none" stroke="#747673" stroke-width="4.50" stroke-linecap="round" stroke-linejoin="round" transform="translate(0.00,-7.00)" />
<rect x="1088" y="1796" width="12" height="46" fill="#c80e0a" />
<rect x="872.5" y="1836" width="31.0" height="69" fill="url(#hv)" />
<rect x="872.5" y="1836" width="31.0" height="14" fill="#0a0a0a" />
<linearGradient id="pan2" x1="0" x2="1" y1="0" y2="0"><stop offset="0" stop-color="#060606"/><stop offset="0.04" stop-color="#1c1c1c"/><stop offset="0.14" stop-color="#6a6c69"/><stop offset="0.8" stop-color="#727471"/><stop offset="0.93" stop-color="#333"/><stop offset="1" stop-color="#050505"/></linearGradient>
<path d="M910,1851 L1578,1851 L1578,1915 Q1578,1937 1556,1937 L1160,1937 Q1138,1937 1138,1952 L1138,1985 Q1138,2001 1120,2001 L970,2001 Q951,2001 951,1985 L951,1952 Q951,1938 935,1935 Q910,1930 910,1905 Z" fill="url(#pan2)" />
<linearGradient id="panfade" gradientUnits="userSpaceOnUse" x1="0" x2="0" y1="1898" y2="1934"><stop offset="0" stop-color="#000" stop-opacity="0"/><stop offset="1" stop-color="#000" stop-opacity="0.95"/></linearGradient>
<path d="M910,1895 L1578,1895 L1578,1915 Q1578,1937 1556,1937 L1160,1937 L935,1935 Q910,1930 910,1905 Z" fill="url(#panfade)" />
<linearGradient id="sumpg" x1="0" x2="1" y1="0" y2="0"><stop offset="0" stop-color="#030303"/><stop offset="0.1" stop-color="#1c1c1c"/><stop offset="0.4" stop-color="#6a6c69"/><stop offset="0.75" stop-color="#333"/><stop offset="1" stop-color="#030303"/></linearGradient>
<linearGradient id="sumpf" x1="0" x2="0" y1="0" y2="1"><stop offset="0" stop-color="#000" stop-opacity="0.9"/><stop offset="0.22" stop-color="#000" stop-opacity="0.05"/><stop offset="0.65" stop-color="#000" stop-opacity="0.05"/><stop offset="1" stop-color="#000" stop-opacity="0.95"/></linearGradient>
<path d="M951,1934 L1138,1934 L1138,1985 Q1138,2001 1120,2001 L970,2001 Q951,2001 951,1985 Z" fill="url(#sumpg)" />
<path d="M951,1934 L1138,1934 L1138,1985 Q1138,2001 1120,2001 L970,2001 Q951,2001 951,1985 Z" fill="url(#sumpf)" />
<rect x="1100" y="1843" width="40" height="8" fill="#c8ccd0" />
<path d="M1170.5,1851 v38 l5,7 l5,-7 v-38 z" fill="#6e706d" stroke="#2a2a2a" stroke-width="1.2"/>
<rect x="1171" y="1851" width="9.5" height="17" fill="#c80e0a" />
<rect x="1171" y="1868" width="9.5" height="8" fill="#ddd" />
<rect x="1262" y="1800" width="15" height="51" fill="#8f8f8f" />
<path d="M1482,1937 L1565,1937 L1578,1905 L1584,1905 Q1590,1925 1584,1947 L1482,1947 Z" fill="#e8a818" />
<polygon points="564.2,1275.2 583,1284 578.6,1294 601.7,1305 600.6,1333.6 587.4,1324.8 585.2,1321.5 561,1320.4 544.4,1309.3" fill="#3c3c3c" stroke="#1a1a1a" stroke-width="1.5"/>
<polygon points="566,1281 578,1287 560,1316 549,1309" fill="#555" />
<path d="M556,1296 L575,1305 M566,1300 l4,6" fill="none" stroke="#1a1a1a" stroke-width="1.5"/>
<rect x="598" y="1335" width="4" height="15" fill="#555" />
<line x1="374.3" y1="446.5" x2="573.68" y2="396.00" stroke="#060806" stroke-width="3.9"/>
<polygon points="627,382.5 572.38,407.16 567.23,386.81" fill="#060806" />
<line x1="1765.4" y1="514.1" x2="1571.03" y2="587.72" stroke="#060806" stroke-width="3.9"/>
<polygon points="1519.6,607.2 1571.06,576.48 1578.49,596.12" fill="#060806" />
<line x1="298.8" y1="856.8" x2="574.80" y2="880.16" stroke="#060806" stroke-width="3.9"/>
<polygon points="629.6,884.8 569.92,890.29 571.7,869.36" fill="#060806" />
<line x1="1735.6" y1="905.7" x2="1303.83" y2="1014.64" stroke="#060806" stroke-width="3.9"/>
<polygon points="1250.5,1028.1 1305.14,1003.48 1310.28,1023.85" fill="#060806" />
<line x1="1787.7" y1="1116.5" x2="1095.47" y2="1271.76" stroke="#060806" stroke-width="3.9"/>
<polygon points="1041.8,1283.8 1097.07,1260.64 1101.67,1281.13" fill="#060806" />
<line x1="1786.4" y1="1304.5" x2="1598.84" y2="1295.76" stroke="#060806" stroke-width="3.9"/>
<polygon points="1543.9,1293.2 1603.32,1285.46 1602.35,1306.43" fill="#060806" />
<line x1="1778.9" y1="1509.4" x2="1228.67" y2="1617.59" stroke="#060806" stroke-width="3.9"/>
<polygon points="1174.7,1628.2 1230.57,1606.51 1234.62,1627.12" fill="#060806" />
<line x1="1777.7" y1="1781.7" x2="1432.51" y2="1705.46" stroke="#060806" stroke-width="3.9"/>
<polygon points="1378.8,1693.6 1438.68,1696.07 1434.15,1716.58" fill="#060806" />
<line x1="1366.3" y1="2114.3" x2="1289.23" y2="1969.46" stroke="#060806" stroke-width="3.9"/>
<polygon points="1263.4,1920.9 1300.38,1968.05 1281.84,1977.92" fill="#060806" />
<line x1="1099.4" y1="2119.7" x2="1141.61" y2="1864.86" stroke="#060806" stroke-width="3.9"/>
<polygon points="1150.6,1810.6 1151.32,1870.52 1130.6,1867.09" fill="#060806" />
<line x1="527.8" y1="2077.6" x2="796.13" y2="1721.05" stroke="#060806" stroke-width="3.9"/>
<polygon points="829.2,1677.1 802.11,1730.56 785.33,1717.93" fill="#060806" />
<line x1="304.5" y1="1733.3" x2="626.68" y2="1656.98" stroke="#060806" stroke-width="3.9"/>
<polygon points="680.2,1644.3 625.21,1668.12 620.37,1647.68" fill="#060806" />
<line x1="282.1" y1="1513.2" x2="601.69" y2="1429.62" stroke="#060806" stroke-width="3.9"/>
<polygon points="654.9,1415.7 600.48,1440.79 595.16,1420.47" fill="#060806" />
<line x1="382.3" y1="1181.9" x2="576.55" y2="1196.17" stroke="#060806" stroke-width="3.9"/>
<polygon points="631.4,1200.2 571.79,1206.35 573.33,1185.41" fill="#060806" />
<circle cx="130.3" cy="446.5" r="60.2" fill="#fefefe" stroke="#060806" stroke-width="3.7"/>
<path d="M10.25,0 L10.25,37" transform="translate(101.35,428.00)" fill="none" stroke="#060806" stroke-width="3.7" stroke-linecap="round" stroke-linejoin="round"/>
<path d="M10.25,0 C3,0 0,8 0,18.5 C0,29 3,37 10.25,37 C17.5,37 20.5,29 20.5,18.5 C20.5,8 17.5,0 10.25,0 Z" transform="translate(138.75,428.00)" fill="none" stroke="#060806" stroke-width="3.7" stroke-linecap="round" stroke-linejoin="round"/>
<circle cx="252.3" cy="446.5" r="60.2" fill="#fefefe" stroke="#060806" stroke-width="3.7"/>
<path d="M10.25,0 L10.25,37" transform="translate(223.35,428.00)" fill="none" stroke="#060806" stroke-width="3.7" stroke-linecap="round" stroke-linejoin="round"/>
<path d="M10.25,0 L10.25,37" transform="translate(260.75,428.00)" fill="none" stroke="#060806" stroke-width="3.7" stroke-linecap="round" stroke-linejoin="round"/>
<circle cx="374.3" cy="446.5" r="60.2" fill="#fefefe" stroke="#060806" stroke-width="3.7"/>
<path d="M10.25,0 L10.25,37" transform="translate(345.35,428.00)" fill="none" stroke="#060806" stroke-width="3.7" stroke-linecap="round" stroke-linejoin="round"/>
<path d="M0.5,8 C2,2 6,0 10.5,0 C16,0 20,3.5 20,9 C20,13 17,16.5 13,20.5 L0,37 L20.5,37" transform="translate(382.75,428.00)" fill="none" stroke="#060806" stroke-width="3.7" stroke-linecap="round" stroke-linejoin="round"/>
<circle cx="1765.4" cy="514.1" r="44.3" fill="#fefefe" stroke="#060806" stroke-width="3.7"/>
<path d="M3,3.5 C6.3,0.5 9.3,0 12.3,0 C17.3,0 21.3,3 21.3,8.5 C21.3,13 16.3,15.5 7.3,16.5 C16.3,17 22.8,20 22.8,26.5 C22.8,33 18.3,37 12.3,37 C7.3,37 4.3,34.5 2.3,30.5" transform="translate(1755.15,495.60)" fill="none" stroke="#060806" stroke-width="3.7" stroke-linecap="round" stroke-linejoin="round"/>
<circle cx="1857.9" cy="514.1" r="44.3" fill="#fefefe" stroke="#060806" stroke-width="3.7"/>
<path d="M18.5,0 L3.5,0 L1.5,17 C5,13.5 8,12.5 11,12.5 C17,12.5 20.5,17.5 20.5,24.5 C20.5,32 16.5,37 10.5,37 C5.5,37 2,34.5 0,30.5" transform="translate(1847.65,495.60)" fill="none" stroke="#060806" stroke-width="3.7" stroke-linecap="round" stroke-linejoin="round"/>
<circle cx="298.8" cy="856.8" r="60.2" fill="#fefefe" stroke="#060806" stroke-width="3.7"/>
<path d="M0.5,8 C2,2 6,0 10.5,0 C16,0 20,3.5 20,9 C20,13 17,16.5 13,20.5 L0,37 L20.5,37" transform="translate(269.85,838.30)" fill="none" stroke="#060806" stroke-width="3.7" stroke-linecap="round" stroke-linejoin="round"/>
<path d="M10.25,0 L10.25,37" transform="translate(307.25,838.30)" fill="none" stroke="#060806" stroke-width="3.7" stroke-linecap="round" stroke-linejoin="round"/>
<circle cx="1735.6" cy="905.7" r="60.2" fill="#fefefe" stroke="#060806" stroke-width="3.7"/>
<path d="M10.25,0 L10.25,37" transform="translate(1706.65,887.20)" fill="none" stroke="#060806" stroke-width="3.7" stroke-linecap="round" stroke-linejoin="round"/>
<path d="M0,0 L20.5,0 C14.5,12 10.5,24 9.5,37" transform="translate(1744.05,887.20)" fill="none" stroke="#060806" stroke-width="3.7" stroke-linecap="round" stroke-linejoin="round"/>
<circle cx="1859.1" cy="905.7" r="60.2" fill="#fefefe" stroke="#060806" stroke-width="3.7"/>
<path d="M10.25,0 L10.25,37" transform="translate(1830.15,887.20)" fill="none" stroke="#060806" stroke-width="3.7" stroke-linecap="round" stroke-linejoin="round"/>
<path d="M10.25,16.5 C4.5,16.5 1.5,12.5 1.5,8 C1.5,3.5 5,0 10.25,0 C15.5,0 19,3.5 19,8 C19,12.5 16,16.5 10.25,16.5 C4,16.5 0,21 0,26.5 C0,32.5 4,37 10.25,37 C16.5,37 20.5,32.5 20.5,26.5 C20.5,21 16.5,16.5 10.25,16.5 Z" transform="translate(1867.55,887.20)" fill="none" stroke="#060806" stroke-width="3.7" stroke-linecap="round" stroke-linejoin="round"/>
<circle cx="1787.7" cy="1116.5" r="44.3" fill="#fefefe" stroke="#060806" stroke-width="3.7"/>
<path d="M15,37 L15,0 L0,26 L20.5,26" transform="translate(1777.45,1098.00)" fill="none" stroke="#060806" stroke-width="3.7" stroke-linecap="round" stroke-linejoin="round"/>
<circle cx="1786.4" cy="1304.5" r="44.3" fill="#fefefe" stroke="#060806" stroke-width="3.7"/>
<path d="M10.25,0 L10.25,37" transform="translate(1776.15,1286.00)" fill="none" stroke="#060806" stroke-width="3.7" stroke-linecap="round" stroke-linejoin="round"/>
<circle cx="1778.9" cy="1509.4" r="44.3" fill="#fefefe" stroke="#060806" stroke-width="3.7"/>
<path d="M0.5,8 C2,2 6,0 10.5,0 C16,0 20,3.5 20,9 C20,13 17,16.5 13,20.5 L0,37 L20.5,37" transform="translate(1768.65,1490.90)" fill="none" stroke="#060806" stroke-width="3.7" stroke-linecap="round" stroke-linejoin="round"/>
<circle cx="1777.7" cy="1781.7" r="60.2" fill="#fefefe" stroke="#060806" stroke-width="3.7"/>
<path d="M10.25,0 L10.25,37" transform="translate(1748.75,1763.20)" fill="none" stroke="#060806" stroke-width="3.7" stroke-linecap="round" stroke-linejoin="round"/>
<path d="M15,37 L15,0 L0,26 L20.5,26" transform="translate(1786.15,1763.20)" fill="none" stroke="#060806" stroke-width="3.7" stroke-linecap="round" stroke-linejoin="round"/>
<circle cx="1366.3" cy="2114.3" r="60.2" fill="#fefefe" stroke="#060806" stroke-width="3.7"/>
<path d="M17,1.5 C14,0 12,0 10.5,0 C3,0 0,9 0,24 C0,32 4,37 10.25,37 C16.5,37 20.5,32 20.5,25 C20.5,18.5 16.5,14 10.5,14 C5,14 1,18 0,24" transform="translate(1356.05,2095.80)" fill="none" stroke="#060806" stroke-width="3.7" stroke-linecap="round" stroke-linejoin="round"/>
<circle cx="1488.6" cy="2114.3" r="60.2" fill="#fefefe" stroke="#060806" stroke-width="3.7"/>
<path d="M3.5,35.5 C6.5,37 8.5,37 10,37 C17.5,37 20.5,28 20.5,13 C20.5,5 16.5,0 10.25,0 C4,0 0,5 0,12 C0,18.5 4,23 10,23 C15.5,23 19.5,19 20.5,13" transform="translate(1478.35,2095.80)" fill="none" stroke="#060806" stroke-width="3.7" stroke-linecap="round" stroke-linejoin="round"/>
<circle cx="1610" cy="2114.3" r="60.2" fill="#fefefe" stroke="#060806" stroke-width="3.7"/>
<path d="M10.25,0 L10.25,37" transform="translate(1581.05,2095.80)" fill="none" stroke="#060806" stroke-width="3.7" stroke-linecap="round" stroke-linejoin="round"/>
<path d="M18.5,0 L3.5,0 L1.5,17 C5,13.5 8,12.5 11,12.5 C17,12.5 20.5,17.5 20.5,24.5 C20.5,32 16.5,37 10.5,37 C5.5,37 2,34.5 0,30.5" transform="translate(1618.45,2095.80)" fill="none" stroke="#060806" stroke-width="3.7" stroke-linecap="round" stroke-linejoin="round"/>
<circle cx="1732" cy="2114.3" r="60.2" fill="#fefefe" stroke="#060806" stroke-width="3.7"/>
<path d="M10.25,0 L10.25,37" transform="translate(1703.05,2095.80)" fill="none" stroke="#060806" stroke-width="3.7" stroke-linecap="round" stroke-linejoin="round"/>
<path d="M17,1.5 C14,0 12,0 10.5,0 C3,0 0,9 0,24 C0,32 4,37 10.25,37 C16.5,37 20.5,32 20.5,25 C20.5,18.5 16.5,14 10.5,14 C5,14 1,18 0,24" transform="translate(1740.45,2095.80)" fill="none" stroke="#060806" stroke-width="3.7" stroke-linecap="round" stroke-linejoin="round"/>
<circle cx="854.6" cy="2119.7" r="60.2" fill="#fefefe" stroke="#060806" stroke-width="3.7"/>
<path d="M10.25,0 L10.25,37" transform="translate(825.65,2101.20)" fill="none" stroke="#060806" stroke-width="3.7" stroke-linecap="round" stroke-linejoin="round"/>
<path d="M3,3.5 C6.3,0.5 9.3,0 12.3,0 C17.3,0 21.3,3 21.3,8.5 C21.3,13 16.3,15.5 7.3,16.5 C16.3,17 22.8,20 22.8,26.5 C22.8,33 18.3,37 12.3,37 C7.3,37 4.3,34.5 2.3,30.5" transform="translate(863.05,2101.20)" fill="none" stroke="#060806" stroke-width="3.7" stroke-linecap="round" stroke-linejoin="round"/>
<circle cx="977.0" cy="2119.7" r="60.2" fill="#fefefe" stroke="#060806" stroke-width="3.7"/>
<path d="M0.5,8 C2,2 6,0 10.5,0 C16,0 20,3.5 20,9 C20,13 17,16.5 13,20.5 L0,37 L20.5,37" transform="translate(948.05,2101.20)" fill="none" stroke="#060806" stroke-width="3.7" stroke-linecap="round" stroke-linejoin="round"/>
<path d="M15,37 L15,0 L0,26 L20.5,26" transform="translate(985.45,2101.20)" fill="none" stroke="#060806" stroke-width="3.7" stroke-linecap="round" stroke-linejoin="round"/>
<circle cx="1099.4" cy="2119.7" r="60.2" fill="#fefefe" stroke="#060806" stroke-width="3.7"/>
<path d="M0.5,8 C2,2 6,0 10.5,0 C16,0 20,3.5 20,9 C20,13 17,16.5 13,20.5 L0,37 L20.5,37" transform="translate(1070.45,2101.20)" fill="none" stroke="#060806" stroke-width="3.7" stroke-linecap="round" stroke-linejoin="round"/>
<path d="M18.5,0 L3.5,0 L1.5,17 C5,13.5 8,12.5 11,12.5 C17,12.5 20.5,17.5 20.5,24.5 C20.5,32 16.5,37 10.5,37 C5.5,37 2,34.5 0,30.5" transform="translate(1107.85,2101.20)" fill="none" stroke="#060806" stroke-width="3.7" stroke-linecap="round" stroke-linejoin="round"/>
<circle cx="527.8" cy="2077.6" r="60.2" fill="#fefefe" stroke="#060806" stroke-width="3.7"/>
<path d="M0.5,8 C2,2 6,0 10.5,0 C16,0 20,3.5 20,9 C20,13 17,16.5 13,20.5 L0,37 L20.5,37" transform="translate(498.85,2059.10)" fill="none" stroke="#060806" stroke-width="3.7" stroke-linecap="round" stroke-linejoin="round"/>
<path d="M10.25,0 C3,0 0,8 0,18.5 C0,29 3,37 10.25,37 C17.5,37 20.5,29 20.5,18.5 C20.5,8 17.5,0 10.25,0 Z" transform="translate(536.25,2059.10)" fill="none" stroke="#060806" stroke-width="3.7" stroke-linecap="round" stroke-linejoin="round"/>
<circle cx="304.5" cy="1733.3" r="60.2" fill="#fefefe" stroke="#060806" stroke-width="3.7"/>
<path d="M10.25,0 L10.25,37" transform="translate(275.55,1714.80)" fill="none" stroke="#060806" stroke-width="3.7" stroke-linecap="round" stroke-linejoin="round"/>
<path d="M3.5,35.5 C6.5,37 8.5,37 10,37 C17.5,37 20.5,28 20.5,13 C20.5,5 16.5,0 10.25,0 C4,0 0,5 0,12 C0,18.5 4,23 10,23 C15.5,23 19.5,19 20.5,13" transform="translate(312.95,1714.80)" fill="none" stroke="#060806" stroke-width="3.7" stroke-linecap="round" stroke-linejoin="round"/>
<circle cx="282.1" cy="1513.2" r="44.3" fill="#fefefe" stroke="#060806" stroke-width="3.7"/>
<path d="M10.25,16.5 C4.5,16.5 1.5,12.5 1.5,8 C1.5,3.5 5,0 10.25,0 C15.5,0 19,3.5 19,8 C19,12.5 16,16.5 10.25,16.5 C4,16.5 0,21 0,26.5 C0,32.5 4,37 10.25,37 C16.5,37 20.5,32.5 20.5,26.5 C20.5,21 16.5,16.5 10.25,16.5 Z" transform="translate(271.85,1494.70)" fill="none" stroke="#060806" stroke-width="3.7" stroke-linecap="round" stroke-linejoin="round"/>
<circle cx="137.2" cy="1181.9" r="60.2" fill="#fefefe" stroke="#060806" stroke-width="3.7"/>
<path d="M0,0 L20.5,0 C14.5,12 10.5,24 9.5,37" transform="translate(126.95,1163.40)" fill="none" stroke="#060806" stroke-width="3.7" stroke-linecap="round" stroke-linejoin="round"/>
<circle cx="259.9" cy="1181.9" r="60.2" fill="#fefefe" stroke="#060806" stroke-width="3.7"/>
<path d="M0.5,8 C2,2 6,0 10.5,0 C16,0 20,3.5 20,9 C20,13 17,16.5 13,20.5 L0,37 L20.5,37" transform="translate(230.95,1163.40)" fill="none" stroke="#060806" stroke-width="3.7" stroke-linecap="round" stroke-linejoin="round"/>
<path d="M0.5,8 C2,2 6,0 10.5,0 C16,0 20,3.5 20,9 C20,13 17,16.5 13,20.5 L0,37 L20.5,37" transform="translate(268.35,1163.40)" fill="none" stroke="#060806" stroke-width="3.7" stroke-linecap="round" stroke-linejoin="round"/>
<circle cx="382.3" cy="1181.9" r="60.2" fill="#fefefe" stroke="#060806" stroke-width="3.7"/>
<path d="M0.5,8 C2,2 6,0 10.5,0 C16,0 20,3.5 20,9 C20,13 17,16.5 13,20.5 L0,37 L20.5,37" transform="translate(353.35,1163.40)" fill="none" stroke="#060806" stroke-width="3.7" stroke-linecap="round" stroke-linejoin="round"/>
<path d="M3,3.5 C6.3,0.5 9.3,0 12.3,0 C17.3,0 21.3,3 21.3,8.5 C21.3,13 16.3,15.5 7.3,16.5 C16.3,17 22.8,20 22.8,26.5 C22.8,33 18.3,37 12.3,37 C7.3,37 4.3,34.5 2.3,30.5" transform="translate(390.75,1163.40)" fill="none" stroke="#060806" stroke-width="3.7" stroke-linecap="round" stroke-linejoin="round"/>
</svg>
</body></html>
